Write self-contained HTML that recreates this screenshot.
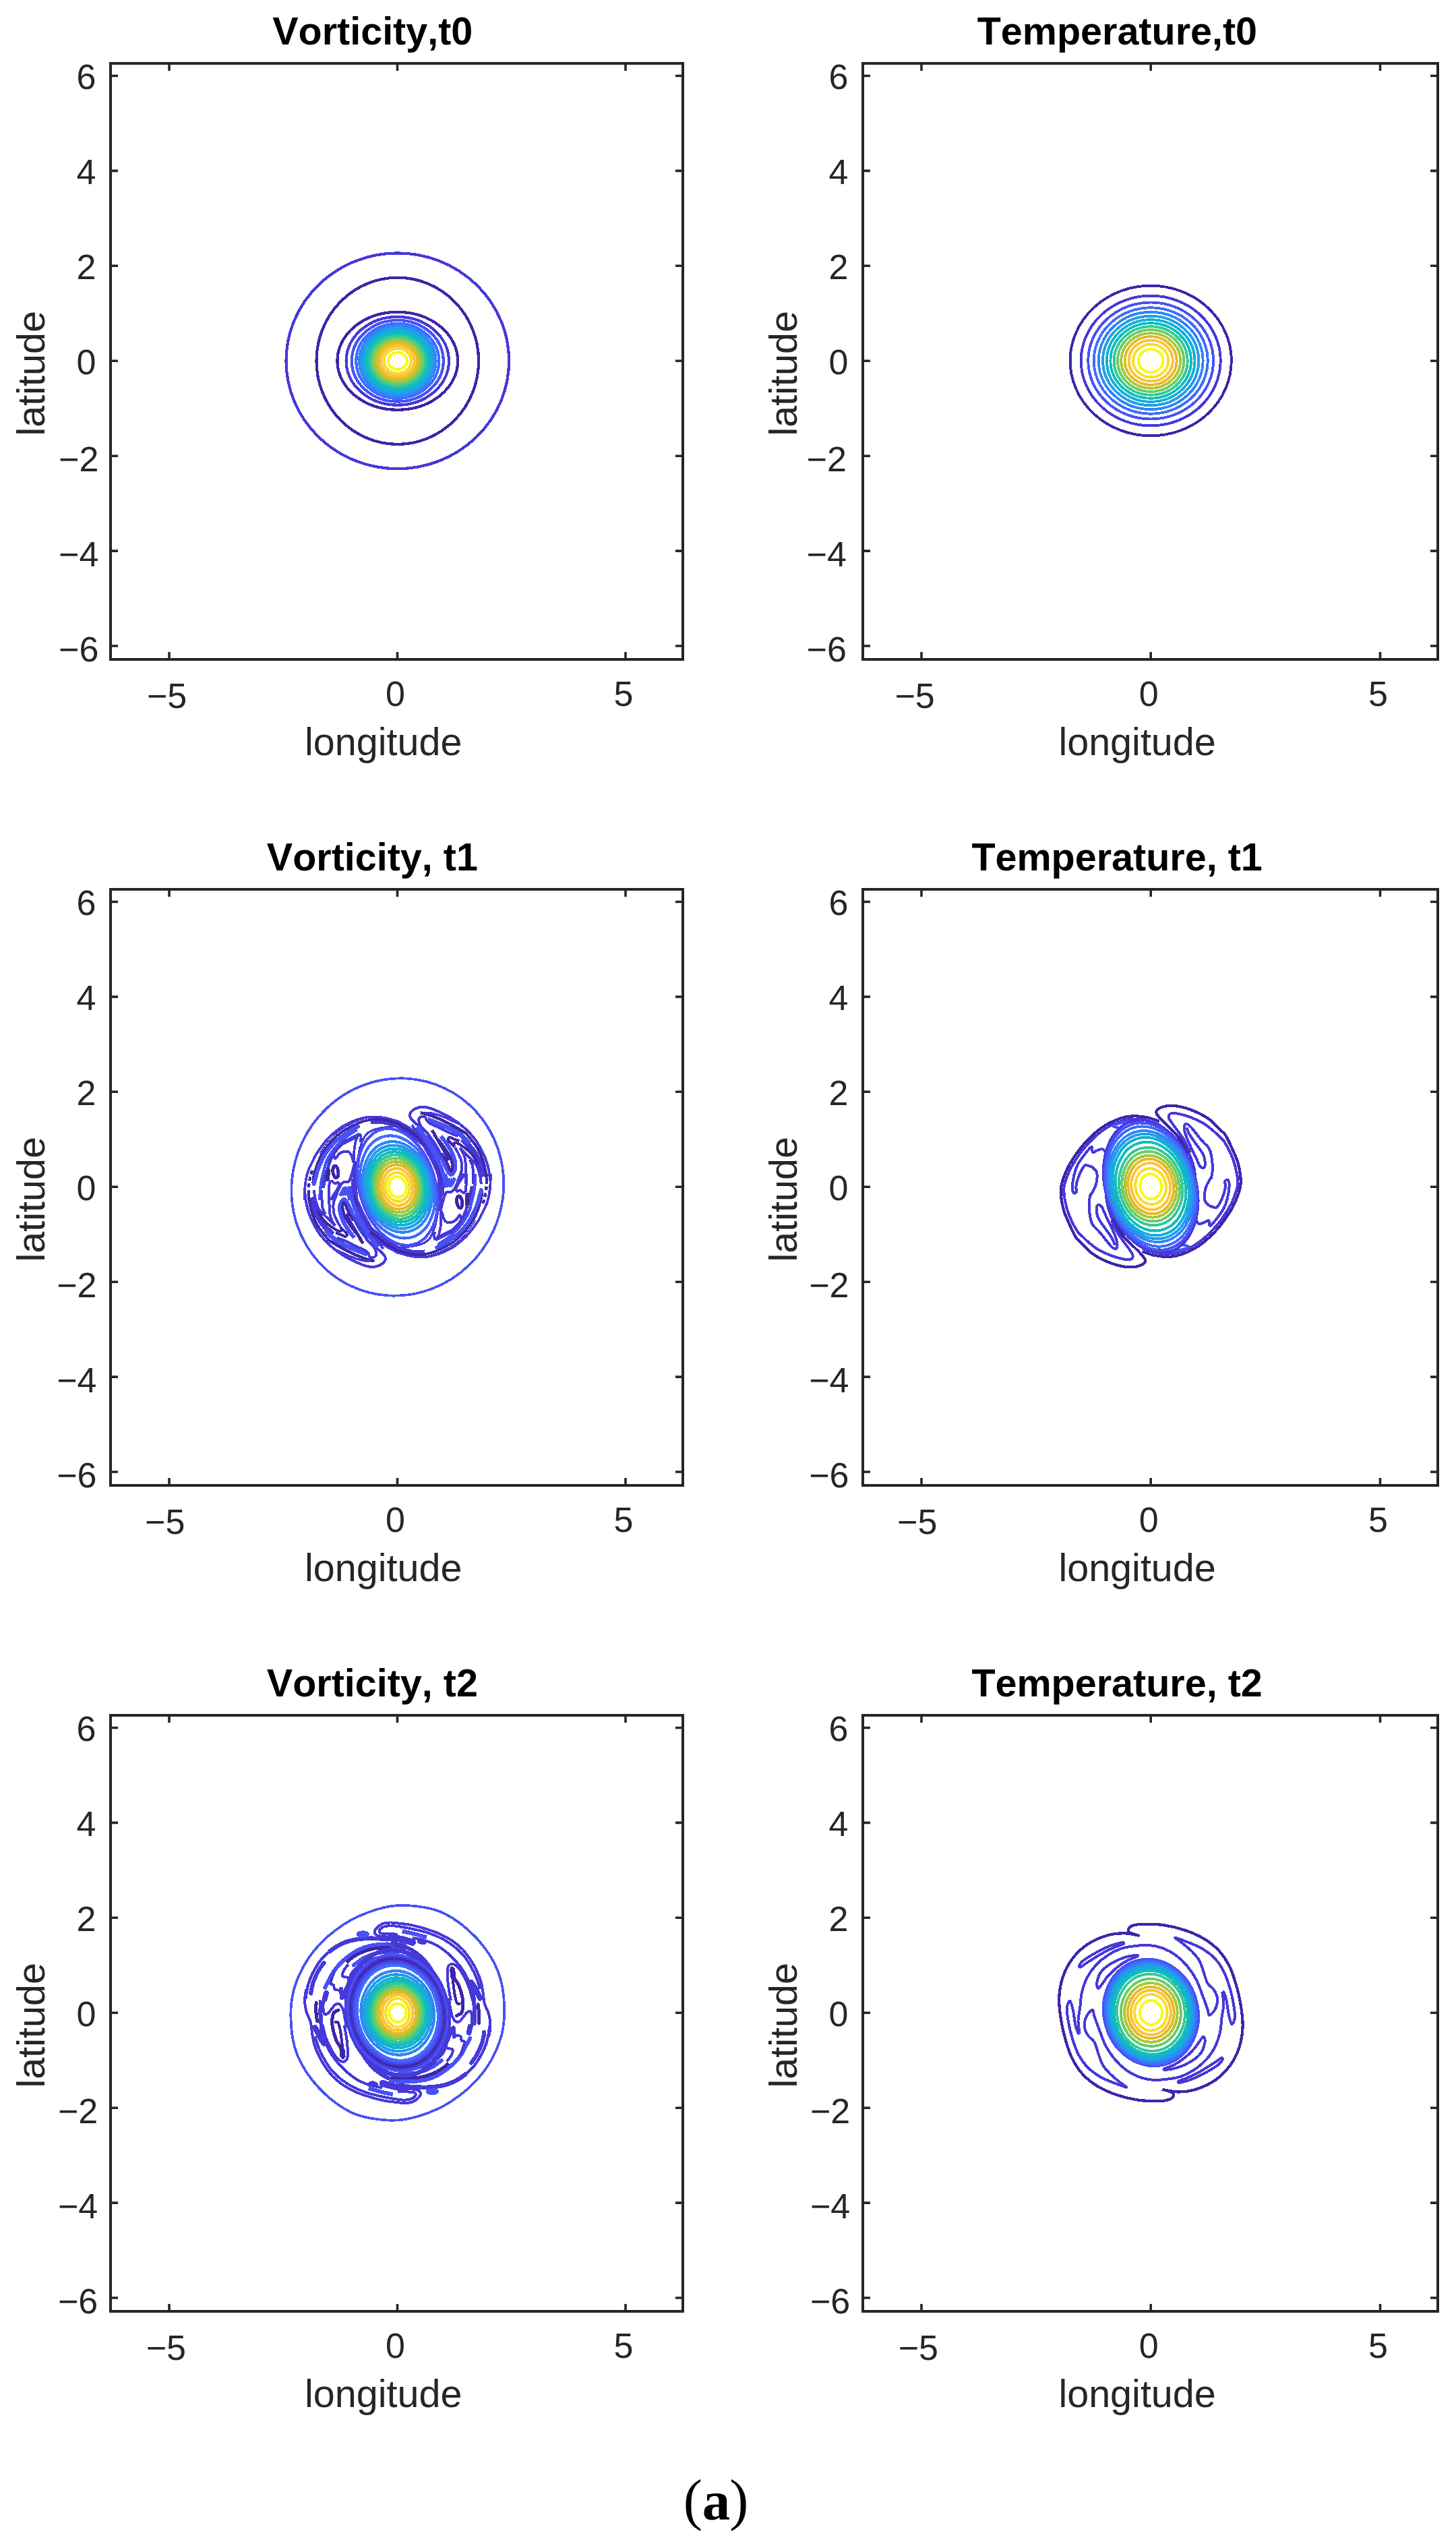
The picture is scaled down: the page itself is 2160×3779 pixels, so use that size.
<!DOCTYPE html>
<html lang="en"><head><meta charset="utf-8"><title>Vorticity and temperature contours</title>
<style>html,body{margin:0;padding:0;background:#fff}svg{display:block}text{font-family:"Liberation Sans",Arial,Helvetica,sans-serif;font-kerning:none}</style></head><body>
<svg width="2160" height="3779" viewBox="0 0 2160 3779">
<rect width="2160" height="3779" fill="#fff"/>
<g shape-rendering="crispEdges">
<g fill="none">
<ellipse cx="589.8" cy="535.3" rx="120.3" ry="123.6" stroke="#3e26a8" stroke-width="4.2"/>
<ellipse cx="589.8" cy="535.3" rx="165.3" ry="159.9" stroke="#4639da" stroke-width="4.2"/>
<ellipse cx="589.8" cy="535.3" rx="89.4" ry="72.5" stroke="#3e26a8" stroke-width="4.2"/>
<ellipse cx="589.8" cy="535.3" rx="76.2" ry="65.4" stroke="#4639da" stroke-width="4.2"/>
<ellipse cx="589.8" cy="535.3" rx="68.0" ry="60.3" stroke="#4852f4" stroke-width="4.2"/>
<ellipse cx="589.8" cy="535.3" rx="61.5" ry="55.5" stroke="#406cfe" stroke-width="4.2"/>
<ellipse cx="589.8" cy="535.3" rx="56.7" ry="51.9" stroke="#2e87f7" stroke-width="4.2"/>
<ellipse cx="589.8" cy="535.3" rx="52.5" ry="48.2" stroke="#249ee6" stroke-width="4.2"/>
<ellipse cx="589.8" cy="535.3" rx="48.5" ry="44.3" stroke="#12b1d6" stroke-width="4.2"/>
<ellipse cx="589.8" cy="535.3" rx="44.8" ry="40.5" stroke="#12beb9" stroke-width="4.2"/>
<ellipse cx="589.8" cy="535.3" rx="41.0" ry="37.0" stroke="#37c897" stroke-width="4.2"/>
<ellipse cx="589.8" cy="535.3" rx="37.3" ry="33.5" stroke="#6bcd69" stroke-width="4.2"/>
<ellipse cx="589.8" cy="535.3" rx="33.5" ry="30.0" stroke="#abc739" stroke-width="4.2"/>
<ellipse cx="589.8" cy="535.3" rx="29.4" ry="26.4" stroke="#e1bc2b" stroke-width="4.2"/>
<ellipse cx="589.8" cy="535.3" rx="25.0" ry="22.6" stroke="#fec338" stroke-width="4.2"/>
<ellipse cx="589.8" cy="535.3" rx="20.3" ry="18.5" stroke="#f6df29" stroke-width="4.2"/>
<ellipse cx="589.8" cy="535.3" rx="14.0" ry="12.4" stroke="#f9fb15" stroke-width="4.2"/>
</g>
<g fill="none">
<ellipse cx="1707.2" cy="535.0" rx="119.6" ry="111.3" stroke="#3e26a8" stroke-width="3.9"/>
<ellipse cx="1707.2" cy="535.0" rx="103.5" ry="96.4" stroke="#4639da" stroke-width="3.9"/>
<ellipse cx="1707.2" cy="535.0" rx="92.9" ry="86.5" stroke="#4852f4" stroke-width="3.9"/>
<ellipse cx="1707.2" cy="535.0" rx="84.5" ry="78.7" stroke="#406cfe" stroke-width="3.9"/>
<ellipse cx="1707.2" cy="535.0" rx="77.4" ry="72.1" stroke="#2e87f7" stroke-width="3.9"/>
<ellipse cx="1707.2" cy="535.0" rx="71.1" ry="66.2" stroke="#249ee6" stroke-width="3.9"/>
<ellipse cx="1707.2" cy="535.0" rx="65.3" ry="60.8" stroke="#12b1d6" stroke-width="3.9"/>
<ellipse cx="1707.2" cy="535.0" rx="59.8" ry="55.7" stroke="#12beb9" stroke-width="3.9"/>
<ellipse cx="1707.2" cy="535.0" rx="54.5" ry="50.7" stroke="#37c897" stroke-width="3.9"/>
<ellipse cx="1707.2" cy="535.0" rx="49.2" ry="45.8" stroke="#6bcd69" stroke-width="3.9"/>
<ellipse cx="1707.2" cy="535.0" rx="44.0" ry="40.9" stroke="#abc739" stroke-width="3.9"/>
<ellipse cx="1707.2" cy="535.0" rx="38.5" ry="35.9" stroke="#e1bc2b" stroke-width="3.9"/>
<ellipse cx="1707.2" cy="535.0" rx="32.7" ry="30.5" stroke="#fec338" stroke-width="3.9"/>
<ellipse cx="1707.2" cy="535.0" rx="26.2" ry="24.4" stroke="#f6df29" stroke-width="3.9"/>
<ellipse cx="1707.2" cy="535.0" rx="18.2" ry="17.0" stroke="#f9fb15" stroke-width="3.9"/>
</g>
<g fill="none" stroke-linejoin="round">
<ellipse cx="589.8" cy="1760.5" rx="156.3" ry="162.3" stroke="#4852f4" stroke-width="3.7" transform="rotate(25.5 589.8 1760.5)"/>
<g><path d="M451.9 1780.0C451.9 1777.2 451.9 1768.5 452.2 1763.4C452.5 1758.3 453.0 1754.2 453.9 1749.6C454.8 1745.0 455.9 1740.0 457.4 1735.9C458.8 1731.8 460.7 1729.0 462.6 1725.0C464.5 1721.0 466.5 1716.2 469.0 1712.0C471.5 1707.8 474.4 1704.0 477.4 1700.0C480.4 1696.0 483.7 1691.5 487.0 1688.0C490.3 1684.5 493.2 1682.1 497.0 1679.0C500.8 1675.9 504.7 1672.6 510.0 1669.6C515.3 1666.6 522.7 1663.1 528.7 1661.0C534.7 1658.9 540.4 1657.5 545.9 1656.8C551.4 1656.1 559.3 1656.9 562.0 1656.9" stroke="#4639da" stroke-width="3.8"/>
<path d="M452.6 1770.0C452.8 1771.8 452.9 1776.4 453.7 1781.0C454.6 1785.6 455.8 1792.0 457.6 1797.5C459.4 1803.0 461.8 1808.3 464.7 1814.0C467.7 1819.6 471.0 1826.0 475.2 1831.5C479.3 1837.0 484.0 1842.0 489.5 1846.9C494.9 1851.9 501.7 1857.1 508.1 1861.2C514.5 1865.3 521.7 1868.8 527.9 1871.6C534.1 1874.5 540.4 1877.1 545.5 1878.2C550.6 1879.3 555.0 1879.0 558.7 1878.2C562.3 1877.5 565.3 1875.7 567.5 1873.8C569.7 1872.0 571.7 1869.5 571.9 1867.3C572.1 1865.0 570.6 1862.7 568.6 1860.1C566.6 1857.5 562.7 1854.8 559.8 1851.9C556.8 1848.9 552.5 1844.1 551.0 1842.5" stroke="#4639da" stroke-width="4"/>
<path d="M549.4 1661.6L551.7 1661.4L555.0 1661.2L558.7 1661.0L562.2 1660.9L565.4 1661.0L568.6 1661.5L571.6 1662.1L574.5 1662.8L578.0 1663.7L581.2 1664.8L584.6 1665.7L587.8 1666.5L590.7 1667.8L593.3 1669.4L596.2 1671.2L598.8 1672.5L601.4 1673.8L604.4 1675.5L606.5 1677.0L608.8 1678.8L611.3 1680.7L613.9 1682.7L616.5 1684.7L619.3 1686.9L622.3 1689.2L625.2 1691.5L627.6 1693.4L629.4 1694.8L629.4 1694.8" stroke="#4639da" stroke-width="11.5"/>
<path d="M474.4 1710.7L475.5 1709.0L477.1 1706.6L479.0 1703.7L481.1 1700.8L483.0 1698.1L485.0 1695.5L486.9 1693.1L489.0 1690.6L491.4 1688.0L493.8 1685.7L496.0 1683.6L498.4 1681.5L500.9 1679.3L503.7 1677.2L506.7 1675.0L509.5 1673.2L512.2 1671.7L515.0 1670.1L518.0 1668.5L521.0 1667.0L524.0 1665.6L526.9 1664.3L529.6 1663.1L532.8 1661.8L536.7 1660.5L540.4 1659.5L543.8 1658.6L546.5 1658.0L548.5 1657.5L548.5 1657.5" stroke="#4639da" stroke-width="1.8"/>
<path d="M464.2 1755.0C464.3 1753.5 464.4 1749.2 465.0 1746.0C465.6 1742.8 466.5 1739.4 467.5 1735.9C468.5 1732.4 469.5 1728.9 471.1 1725.0C472.7 1721.1 474.6 1716.7 477.0 1712.5C479.4 1708.3 482.6 1703.9 485.6 1700.0C488.6 1696.1 490.9 1692.9 495.0 1689.0C499.1 1685.1 503.8 1680.6 510.0 1676.7C516.2 1672.8 525.6 1668.2 532.1 1665.5C538.6 1662.8 544.0 1661.5 549.3 1660.6C554.6 1659.7 559.5 1659.7 563.7 1659.9C567.9 1660.1 571.5 1661.1 574.7 1661.8C577.9 1662.5 580.5 1663.6 583.0 1664.3C585.5 1665.0 587.5 1665.2 589.8 1666.2C592.1 1667.2 594.2 1668.9 596.7 1670.3C599.2 1671.7 601.7 1672.6 604.9 1674.7C608.1 1676.8 611.7 1679.8 615.9 1683.0C620.1 1686.2 627.6 1692.2 630.0 1694.0" stroke="#3e26a8" stroke-width="3.6"/>
<path d="M600.0 1857.0C598.3 1856.5 592.7 1855.5 589.8 1854.3C586.9 1853.0 585.9 1851.7 582.4 1849.5C578.9 1847.3 573.3 1844.5 568.7 1841.2C564.1 1837.9 559.5 1834.1 554.9 1829.5C550.3 1824.9 544.9 1818.6 541.2 1813.7C537.5 1808.8 534.7 1804.5 532.5 1800.0C530.3 1795.5 529.1 1791.5 528.0 1786.5C526.9 1781.5 526.2 1774.4 525.8 1770.0C525.4 1765.6 525.6 1763.7 525.6 1760.0C525.6 1756.3 525.9 1750.0 526.0 1748.0" stroke="#4639da" stroke-width="9.6"/>
<path d="M526.0 1748.0C526.7 1744.2 529.6 1728.8 530.3 1725.0" stroke="#4639da" stroke-width="7"/>
<path d="M530.3 1725.0C531.1 1720.8 534.2 1704.2 535.0 1700.0" stroke="#4639da" stroke-width="4.5"/>
<path d="M535.0 1700.0C535.6 1698.3 537.2 1692.8 538.5 1690.0C539.8 1687.2 541.1 1685.1 543.0 1683.0C544.9 1680.9 546.8 1679.1 550.0 1677.5C553.2 1675.9 557.4 1674.5 562.0 1673.5C566.6 1672.5 572.9 1671.8 577.4 1671.3C581.9 1670.8 587.1 1670.6 589.0 1670.5" stroke="#4639da" stroke-width="3.2"/>
<path d="M600.0 1857.0C598.3 1856.5 592.7 1855.5 589.8 1854.3C586.9 1853.0 585.9 1851.7 582.4 1849.5C578.9 1847.3 573.3 1844.5 568.7 1841.2C564.1 1837.9 559.5 1834.1 554.9 1829.5C550.3 1824.9 544.9 1818.6 541.2 1813.7C537.5 1808.8 534.7 1804.5 532.5 1800.0C530.3 1795.5 529.1 1791.5 528.0 1786.5C526.9 1781.5 526.2 1772.8 525.8 1770.0" stroke="#3e26a8" stroke-width="4.0"/>
<path d="M465.8 1756.0C466.2 1754.3 467.6 1749.5 468.5 1746.0C469.4 1742.5 470.3 1738.5 471.5 1735.0C472.7 1731.5 473.9 1728.8 475.7 1725.0C477.4 1721.2 479.4 1716.7 482.0 1712.5C484.6 1708.3 487.9 1703.8 491.1 1700.0C494.3 1696.2 497.9 1692.9 501.0 1690.0C504.1 1687.1 506.5 1685.2 510.0 1682.8C513.5 1680.3 518.4 1677.3 522.0 1675.3C525.6 1673.3 529.8 1671.5 531.4 1670.8" stroke="#4852f4" stroke-width="5.8" stroke-linecap="round"/>
<path d="M474.5 1780.0C474.6 1777.2 474.7 1768.5 475.2 1763.4C475.7 1758.3 476.4 1754.2 477.3 1749.6C478.2 1745.0 479.7 1740.0 480.7 1735.9C481.7 1731.8 481.8 1729.0 483.4 1725.0C484.9 1721.0 487.4 1716.2 490.0 1712.0C492.6 1707.8 495.8 1703.9 499.1 1700.0C502.4 1696.1 506.5 1691.9 510.0 1688.8C513.5 1685.7 516.7 1683.8 520.0 1681.5C523.3 1679.2 528.3 1676.1 530.0 1675.0" stroke="#4852f4" stroke-width="4.5"/>
<path d="M479.5 1762.0C479.9 1759.8 481.0 1753.3 482.0 1749.0C483.0 1744.7 484.4 1740.0 485.5 1736.0C486.6 1732.0 487.3 1728.8 488.7 1725.0C490.1 1721.2 491.9 1716.6 494.0 1713.0C496.1 1709.4 498.6 1706.3 501.0 1703.5C503.4 1700.7 507.2 1697.2 508.4 1696.0" stroke="#4639da" stroke-width="4.5"/>
<path d="M507.5 1695.8C509.6 1694.8 515.6 1691.8 520.0 1689.6C524.4 1687.3 531.5 1683.5 533.8 1682.3" stroke="#4639da" stroke-width="6"/>
<path d="M533.8 1681.5C533.0 1682.7 530.2 1685.7 529.0 1688.5C527.8 1691.3 527.2 1694.8 526.6 1698.1C526.0 1701.4 525.5 1705.0 525.3 1708.4C525.1 1711.8 525.2 1715.6 525.4 1718.7C525.5 1721.8 526.1 1725.6 526.2 1727.0" stroke="#4639da" stroke-width="3.8"/>
<path d="M533.8 1681.5C534.1 1682.2 535.4 1683.9 535.5 1686.0C535.6 1688.1 534.7 1692.7 534.5 1694.0" stroke="#4639da" stroke-width="3.8"/>
<path d="M487.6 1722.9C488.3 1721.9 490.4 1718.9 491.7 1717.4C493.0 1715.9 494.2 1713.8 495.1 1713.9C496.1 1714.1 496.2 1718.9 497.5 1718.4C498.9 1717.9 501.3 1712.9 503.4 1711.2C505.5 1709.4 508.0 1708.4 510.2 1707.9C512.5 1707.4 515.3 1707.4 517.1 1708.3C518.9 1709.2 520.1 1710.9 521.2 1713.2C522.4 1715.6 523.2 1720.0 524.0 1722.2C524.7 1724.3 525.8 1724.0 525.7 1726.3C525.6 1728.6 524.0 1733.0 523.3 1735.9C522.6 1738.8 521.9 1741.3 521.2 1743.5C520.5 1745.6 519.9 1747.5 519.2 1749.0C518.5 1750.4 518.6 1751.7 517.1 1752.4C515.6 1753.1 512.3 1752.3 510.2 1753.1C508.2 1753.9 506.2 1757.1 504.8 1757.2C503.3 1757.3 502.6 1754.2 501.3 1753.9C500.0 1753.6 498.3 1755.8 496.9 1755.5C495.4 1755.1 493.7 1752.0 492.4 1751.7C491.1 1751.4 489.5 1753.1 489.0 1753.4" stroke="#4639da" stroke-width="4"/>
<path d="M486.9 1735.2C486.8 1736.4 486.7 1739.8 486.6 1742.1C486.4 1744.4 486.3 1747.8 486.2 1749.0" stroke="#3e26a8" stroke-width="6" stroke-linecap="round"/>
<ellipse cx="497.9" cy="1738.0" rx="4.0" ry="8.9" stroke="#3e26a8" stroke-width="5" transform="rotate(-8 497.9 1738.0)"/>
<path d="M463.2 1735.9C462.7 1737.4 461.3 1741.4 460.5 1744.8C459.7 1748.3 458.9 1752.8 458.4 1756.5C457.9 1760.2 457.8 1762.9 457.7 1766.8C457.6 1770.7 457.9 1777.8 457.9 1780.0" stroke="#3e26a8" stroke-width="4.2" stroke-dasharray="6 4"/>
<path d="M489.0 1753.4C488.8 1754.5 488.5 1756.6 488.3 1759.9C488.0 1763.3 487.6 1770.3 487.6 1773.7C487.5 1777.0 487.9 1778.9 487.9 1780.0" stroke="#4639da" stroke-width="4"/>
<path d="M504.8 1757.2C504.0 1758.8 501.7 1763.0 499.9 1766.8C498.2 1770.6 495.4 1777.8 494.5 1780.0" stroke="#4639da" stroke-width="6"/>
<path d="M504.8 1773.7C505.6 1772.0 508.2 1765.2 509.6 1763.4C510.9 1761.5 511.8 1761.5 513.0 1762.7C514.1 1763.8 515.4 1767.4 516.4 1770.2C517.5 1773.1 518.7 1778.4 519.2 1780.0" stroke="#4852f4" stroke-width="5"/>
<path d="M463.7 1775.3C464.1 1777.6 464.8 1784.8 465.8 1789.0C466.8 1793.3 468.1 1796.7 469.9 1800.7C471.7 1804.7 474.4 1809.5 476.8 1813.1C479.2 1816.6 481.5 1819.0 484.3 1822.0C487.2 1825.0 492.4 1829.4 494.0 1830.9" stroke="#4639da" stroke-width="8"/>
<path d="M457.6 1767.7C457.8 1770.2 458.0 1776.9 458.9 1782.2C459.8 1787.4 461.1 1793.6 463.0 1799.3C465.0 1805.1 467.7 1811.4 470.6 1816.5C473.5 1821.7 477.2 1826.3 480.2 1830.2C483.2 1834.2 487.1 1838.4 488.5 1840.0" stroke="#3e26a8" stroke-width="4"/>
<path d="M470.6 1792.5C471.4 1794.2 473.5 1799.6 475.4 1802.8C477.4 1806.0 479.6 1809.0 482.3 1811.7C484.9 1814.5 488.3 1817.1 491.2 1819.3C494.1 1821.4 497.3 1823.3 499.5 1824.4C501.6 1825.5 503.0 1825.8 504.3 1825.8C505.5 1825.7 506.9 1825.0 507.0 1824.1C507.1 1823.1 505.3 1820.6 504.9 1819.9" stroke="#3e26a8" stroke-width="4"/>
<path d="M504.9 1819.9C505.6 1820.6 507.6 1822.6 509.1 1824.1C510.6 1825.6 513.0 1827.4 513.9 1828.9C514.8 1830.3 515.0 1831.8 514.6 1832.7C514.1 1833.5 512.7 1834.0 511.1 1833.7C509.5 1833.4 507.1 1831.8 504.9 1830.9C502.8 1830.1 499.2 1828.9 498.1 1828.5" stroke="#3e26a8" stroke-width="4"/>
<path d="M465.8 1765.0C466.1 1767.3 466.7 1774.2 467.9 1778.7C469.0 1783.3 470.7 1788.8 472.7 1792.5C474.6 1796.1 476.9 1798.0 479.5 1800.7C482.2 1803.5 485.8 1806.4 488.5 1809.0C491.1 1811.5 493.8 1814.3 495.3 1815.8C496.8 1817.4 497.0 1817.8 497.4 1818.2" stroke="#4639da" stroke-width="4"/>
<path d="M477.5 1765.0C477.5 1767.3 477.2 1774.2 477.5 1778.7C477.7 1783.3 477.9 1788.8 478.8 1792.5C479.8 1796.1 482.3 1799.3 483.0 1800.7" stroke="#4639da" stroke-width="4"/>
<path d="M488.5 1765.0C488.5 1768.4 488.2 1779.3 488.5 1785.6C488.7 1791.9 488.9 1798.2 489.8 1802.8C490.8 1807.4 492.7 1810.6 494.0 1813.1C495.2 1815.6 496.8 1817.1 497.4 1817.9" stroke="#4639da" stroke-width="4"/>
<path d="M500.1 1765.0C499.2 1766.4 496.2 1770.8 494.6 1773.2C493.1 1775.7 491.5 1778.7 490.9 1779.8" stroke="#4639da" stroke-width="4.5"/>
<path d="M500.8 1769.1C500.3 1770.4 498.4 1773.9 497.4 1776.7C496.4 1779.4 495.0 1781.8 494.6 1785.6C494.3 1789.4 494.5 1795.3 495.3 1799.3C496.1 1803.3 497.8 1806.3 499.5 1809.6C501.1 1813.0 504.0 1817.7 504.9 1819.3" stroke="#4639da" stroke-width="4"/>
<path d="M525.5 1835.7C524.4 1834.3 521.0 1830.0 518.7 1826.8C516.4 1823.6 513.8 1819.9 511.8 1816.5C509.9 1813.1 508.3 1809.6 507.0 1806.2C505.7 1802.8 504.6 1799.3 504.3 1795.9C503.9 1792.5 503.9 1788.5 504.9 1785.6C506.0 1782.7 508.7 1779.0 510.4 1778.7C512.2 1778.5 513.6 1781.7 515.2 1784.2C516.8 1786.7 518.3 1790.2 520.1 1793.8C521.8 1797.5 523.5 1801.9 525.5 1806.2C527.6 1810.6 530.1 1815.9 532.4 1819.9C534.7 1824.0 537.0 1827.3 539.3 1830.2C541.6 1833.2 545.0 1836.5 546.2 1837.8" stroke="#4852f4" stroke-width="6"/>
<path d="M535.9 1837.8C535.1 1836.9 533.0 1834.6 531.0 1832.3C529.1 1830.0 526.5 1827.0 524.2 1824.1C521.9 1821.1 519.4 1817.7 517.3 1814.5C515.2 1811.2 513.2 1807.9 511.8 1804.8C510.4 1801.7 509.6 1798.5 509.1 1795.9C508.5 1793.3 508.3 1791.0 508.4 1789.0C508.5 1787.0 509.1 1784.5 509.8 1783.9C510.4 1783.3 511.4 1784.2 512.2 1785.6C513.0 1787.0 513.5 1790.0 514.6 1792.5C515.6 1795.0 517.1 1797.7 518.7 1800.7C520.3 1803.7 523.3 1808.7 524.2 1810.3" stroke="#3e26a8" stroke-width="4"/>
<path d="M507.7 1772.6C508.3 1771.6 510.0 1767.0 511.1 1767.1C512.2 1767.1 513.7 1771.9 514.2 1772.9" stroke="#4852f4" stroke-width="5"/>
<path d="M483.0 1824.7C484.2 1826.0 487.7 1830.0 490.5 1832.6C493.4 1835.3 495.0 1837.5 500.0 1840.5C505.0 1843.6 513.0 1847.5 520.5 1850.8C528.1 1854.1 541.2 1858.8 545.3 1860.4" stroke="#4852f4" stroke-width="7"/>
<path d="M488.5 1840.0C490.4 1841.2 494.7 1843.9 500.0 1846.9C505.3 1849.9 513.7 1854.6 520.5 1857.9C527.4 1861.2 535.4 1864.6 541.2 1866.7C547.1 1868.8 553.2 1869.8 555.6 1870.4" stroke="#3e26a8" stroke-width="4.5"/>
<path d="M500.0 1854.3C503.4 1855.9 514.3 1861.4 520.6 1863.9C526.9 1866.4 533.0 1868.3 537.8 1869.4C542.6 1870.4 547.5 1870.1 549.5 1870.2" stroke="#4639da" stroke-width="3.5"/>
<path d="M500.0 1835.7C502.3 1836.6 509.2 1839.1 513.7 1841.2C518.3 1843.3 522.9 1845.9 527.5 1848.1C532.1 1850.3 538.0 1852.4 541.2 1854.3C544.4 1856.1 545.6 1857.5 546.7 1859.1C547.8 1860.6 547.0 1862.5 548.1 1863.5C549.1 1864.6 551.2 1865.5 552.9 1865.2C554.5 1865.0 557.3 1863.5 558.0 1861.8C558.8 1860.1 558.1 1857.2 557.3 1854.9C556.6 1852.7 555.8 1850.8 553.6 1848.1C551.3 1845.3 546.5 1841.9 544.0 1838.5C541.4 1835.0 540.6 1831.0 538.5 1827.5C536.3 1823.9 533.3 1820.8 530.9 1817.2C528.5 1813.5 525.2 1807.4 524.0 1805.5" stroke="#4639da" stroke-width="4"/>
<path d="M513.7 1800.0C514.9 1802.3 518.1 1809.2 520.6 1813.7C523.1 1818.3 526.3 1823.1 528.8 1827.5C531.4 1831.8 534.1 1837.0 535.7 1839.8C537.4 1842.6 538.3 1843.6 538.8 1844.3" stroke="#3e26a8" stroke-width="4.5"/>
<path d="M560.4 1849.8C559.5 1848.5 557.0 1844.8 554.9 1841.9C552.9 1839.0 550.4 1835.5 548.1 1832.3C545.8 1829.1 543.3 1825.8 541.2 1822.7C539.1 1819.6 537.4 1816.6 535.7 1813.7C534.0 1810.9 532.3 1807.8 530.9 1805.5C529.5 1803.2 528.0 1800.9 527.5 1800.0" stroke="#4852f4" stroke-width="7"/>
<path d="M568.7 1852.2C567.5 1850.6 564.7 1846.5 561.8 1842.6C559.0 1838.7 554.9 1833.7 551.5 1828.8C548.1 1824.0 544.1 1818.5 541.2 1813.7C538.3 1808.9 535.5 1802.3 534.3 1800.0" stroke="#4639da" stroke-width="4"/>
<path d="M517.3 1759.5C517.5 1760.4 517.9 1761.8 518.7 1765.0C519.5 1768.2 520.7 1774.2 522.1 1778.7C523.5 1783.3 525.0 1787.7 526.9 1792.5C528.9 1797.3 531.3 1802.5 533.8 1807.6C536.3 1812.6 539.3 1818.3 542.0 1822.7C544.7 1827.0 548.7 1831.8 550.0 1833.7" stroke="#4852f4" stroke-width="6.5"/>
<path d="M524.5 1760.9C524.8 1762.0 525.1 1764.2 526.2 1767.7C527.3 1771.3 529.1 1777.1 531.0 1782.2C533.0 1787.2 535.4 1792.8 537.9 1798.0C540.4 1803.1 544.1 1809.4 546.2 1813.1C548.2 1816.7 549.4 1818.8 550.0 1819.9" stroke="#4639da" stroke-width="4"/></g>
<g transform="rotate(180 589.8 1760.4)"><path d="M451.9 1780.0C451.9 1777.2 451.9 1768.5 452.2 1763.4C452.5 1758.3 453.0 1754.2 453.9 1749.6C454.8 1745.0 455.9 1740.0 457.4 1735.9C458.8 1731.8 460.7 1729.0 462.6 1725.0C464.5 1721.0 466.5 1716.2 469.0 1712.0C471.5 1707.8 474.4 1704.0 477.4 1700.0C480.4 1696.0 483.7 1691.5 487.0 1688.0C490.3 1684.5 493.2 1682.1 497.0 1679.0C500.8 1675.9 504.7 1672.6 510.0 1669.6C515.3 1666.6 522.7 1663.1 528.7 1661.0C534.7 1658.9 540.4 1657.5 545.9 1656.8C551.4 1656.1 559.3 1656.9 562.0 1656.9" stroke="#4639da" stroke-width="3.8"/>
<path d="M452.6 1770.0C452.8 1771.8 452.9 1776.4 453.7 1781.0C454.6 1785.6 455.8 1792.0 457.6 1797.5C459.4 1803.0 461.8 1808.3 464.7 1814.0C467.7 1819.6 471.0 1826.0 475.2 1831.5C479.3 1837.0 484.0 1842.0 489.5 1846.9C494.9 1851.9 501.7 1857.1 508.1 1861.2C514.5 1865.3 521.7 1868.8 527.9 1871.6C534.1 1874.5 540.4 1877.1 545.5 1878.2C550.6 1879.3 555.0 1879.0 558.7 1878.2C562.3 1877.5 565.3 1875.7 567.5 1873.8C569.7 1872.0 571.7 1869.5 571.9 1867.3C572.1 1865.0 570.6 1862.7 568.6 1860.1C566.6 1857.5 562.7 1854.8 559.8 1851.9C556.8 1848.9 552.5 1844.1 551.0 1842.5" stroke="#4639da" stroke-width="4"/>
<path d="M549.4 1661.6L551.7 1661.4L555.0 1661.2L558.7 1661.0L562.2 1660.9L565.4 1661.0L568.6 1661.5L571.6 1662.1L574.5 1662.8L578.0 1663.7L581.2 1664.8L584.6 1665.7L587.8 1666.5L590.7 1667.8L593.3 1669.4L596.2 1671.2L598.8 1672.5L601.4 1673.8L604.4 1675.5L606.5 1677.0L608.8 1678.8L611.3 1680.7L613.9 1682.7L616.5 1684.7L619.3 1686.9L622.3 1689.2L625.2 1691.5L627.6 1693.4L629.4 1694.8L629.4 1694.8" stroke="#4639da" stroke-width="11.5"/>
<path d="M474.4 1710.7L475.5 1709.0L477.1 1706.6L479.0 1703.7L481.1 1700.8L483.0 1698.1L485.0 1695.5L486.9 1693.1L489.0 1690.6L491.4 1688.0L493.8 1685.7L496.0 1683.6L498.4 1681.5L500.9 1679.3L503.7 1677.2L506.7 1675.0L509.5 1673.2L512.2 1671.7L515.0 1670.1L518.0 1668.5L521.0 1667.0L524.0 1665.6L526.9 1664.3L529.6 1663.1L532.8 1661.8L536.7 1660.5L540.4 1659.5L543.8 1658.6L546.5 1658.0L548.5 1657.5L548.5 1657.5" stroke="#4639da" stroke-width="1.8"/>
<path d="M464.2 1755.0C464.3 1753.5 464.4 1749.2 465.0 1746.0C465.6 1742.8 466.5 1739.4 467.5 1735.9C468.5 1732.4 469.5 1728.9 471.1 1725.0C472.7 1721.1 474.6 1716.7 477.0 1712.5C479.4 1708.3 482.6 1703.9 485.6 1700.0C488.6 1696.1 490.9 1692.9 495.0 1689.0C499.1 1685.1 503.8 1680.6 510.0 1676.7C516.2 1672.8 525.6 1668.2 532.1 1665.5C538.6 1662.8 544.0 1661.5 549.3 1660.6C554.6 1659.7 559.5 1659.7 563.7 1659.9C567.9 1660.1 571.5 1661.1 574.7 1661.8C577.9 1662.5 580.5 1663.6 583.0 1664.3C585.5 1665.0 587.5 1665.2 589.8 1666.2C592.1 1667.2 594.2 1668.9 596.7 1670.3C599.2 1671.7 601.7 1672.6 604.9 1674.7C608.1 1676.8 611.7 1679.8 615.9 1683.0C620.1 1686.2 627.6 1692.2 630.0 1694.0" stroke="#3e26a8" stroke-width="3.6"/>
<path d="M600.0 1857.0C598.3 1856.5 592.7 1855.5 589.8 1854.3C586.9 1853.0 585.9 1851.7 582.4 1849.5C578.9 1847.3 573.3 1844.5 568.7 1841.2C564.1 1837.9 559.5 1834.1 554.9 1829.5C550.3 1824.9 544.9 1818.6 541.2 1813.7C537.5 1808.8 534.7 1804.5 532.5 1800.0C530.3 1795.5 529.1 1791.5 528.0 1786.5C526.9 1781.5 526.2 1774.4 525.8 1770.0C525.4 1765.6 525.6 1763.7 525.6 1760.0C525.6 1756.3 525.9 1750.0 526.0 1748.0" stroke="#4639da" stroke-width="9.6"/>
<path d="M526.0 1748.0C526.7 1744.2 529.6 1728.8 530.3 1725.0" stroke="#4639da" stroke-width="7"/>
<path d="M530.3 1725.0C531.1 1720.8 534.2 1704.2 535.0 1700.0" stroke="#4639da" stroke-width="4.5"/>
<path d="M535.0 1700.0C535.6 1698.3 537.2 1692.8 538.5 1690.0C539.8 1687.2 541.1 1685.1 543.0 1683.0C544.9 1680.9 546.8 1679.1 550.0 1677.5C553.2 1675.9 557.4 1674.5 562.0 1673.5C566.6 1672.5 572.9 1671.8 577.4 1671.3C581.9 1670.8 587.1 1670.6 589.0 1670.5" stroke="#4639da" stroke-width="3.2"/>
<path d="M600.0 1857.0C598.3 1856.5 592.7 1855.5 589.8 1854.3C586.9 1853.0 585.9 1851.7 582.4 1849.5C578.9 1847.3 573.3 1844.5 568.7 1841.2C564.1 1837.9 559.5 1834.1 554.9 1829.5C550.3 1824.9 544.9 1818.6 541.2 1813.7C537.5 1808.8 534.7 1804.5 532.5 1800.0C530.3 1795.5 529.1 1791.5 528.0 1786.5C526.9 1781.5 526.2 1772.8 525.8 1770.0" stroke="#3e26a8" stroke-width="4.0"/>
<path d="M465.8 1756.0C466.2 1754.3 467.6 1749.5 468.5 1746.0C469.4 1742.5 470.3 1738.5 471.5 1735.0C472.7 1731.5 473.9 1728.8 475.7 1725.0C477.4 1721.2 479.4 1716.7 482.0 1712.5C484.6 1708.3 487.9 1703.8 491.1 1700.0C494.3 1696.2 497.9 1692.9 501.0 1690.0C504.1 1687.1 506.5 1685.2 510.0 1682.8C513.5 1680.3 518.4 1677.3 522.0 1675.3C525.6 1673.3 529.8 1671.5 531.4 1670.8" stroke="#4852f4" stroke-width="5.8" stroke-linecap="round"/>
<path d="M474.5 1780.0C474.6 1777.2 474.7 1768.5 475.2 1763.4C475.7 1758.3 476.4 1754.2 477.3 1749.6C478.2 1745.0 479.7 1740.0 480.7 1735.9C481.7 1731.8 481.8 1729.0 483.4 1725.0C484.9 1721.0 487.4 1716.2 490.0 1712.0C492.6 1707.8 495.8 1703.9 499.1 1700.0C502.4 1696.1 506.5 1691.9 510.0 1688.8C513.5 1685.7 516.7 1683.8 520.0 1681.5C523.3 1679.2 528.3 1676.1 530.0 1675.0" stroke="#4852f4" stroke-width="4.5"/>
<path d="M479.5 1762.0C479.9 1759.8 481.0 1753.3 482.0 1749.0C483.0 1744.7 484.4 1740.0 485.5 1736.0C486.6 1732.0 487.3 1728.8 488.7 1725.0C490.1 1721.2 491.9 1716.6 494.0 1713.0C496.1 1709.4 498.6 1706.3 501.0 1703.5C503.4 1700.7 507.2 1697.2 508.4 1696.0" stroke="#4639da" stroke-width="4.5"/>
<path d="M507.5 1695.8C509.6 1694.8 515.6 1691.8 520.0 1689.6C524.4 1687.3 531.5 1683.5 533.8 1682.3" stroke="#4639da" stroke-width="6"/>
<path d="M533.8 1681.5C533.0 1682.7 530.2 1685.7 529.0 1688.5C527.8 1691.3 527.2 1694.8 526.6 1698.1C526.0 1701.4 525.5 1705.0 525.3 1708.4C525.1 1711.8 525.2 1715.6 525.4 1718.7C525.5 1721.8 526.1 1725.6 526.2 1727.0" stroke="#4639da" stroke-width="3.8"/>
<path d="M533.8 1681.5C534.1 1682.2 535.4 1683.9 535.5 1686.0C535.6 1688.1 534.7 1692.7 534.5 1694.0" stroke="#4639da" stroke-width="3.8"/>
<path d="M487.6 1722.9C488.3 1721.9 490.4 1718.9 491.7 1717.4C493.0 1715.9 494.2 1713.8 495.1 1713.9C496.1 1714.1 496.2 1718.9 497.5 1718.4C498.9 1717.9 501.3 1712.9 503.4 1711.2C505.5 1709.4 508.0 1708.4 510.2 1707.9C512.5 1707.4 515.3 1707.4 517.1 1708.3C518.9 1709.2 520.1 1710.9 521.2 1713.2C522.4 1715.6 523.2 1720.0 524.0 1722.2C524.7 1724.3 525.8 1724.0 525.7 1726.3C525.6 1728.6 524.0 1733.0 523.3 1735.9C522.6 1738.8 521.9 1741.3 521.2 1743.5C520.5 1745.6 519.9 1747.5 519.2 1749.0C518.5 1750.4 518.6 1751.7 517.1 1752.4C515.6 1753.1 512.3 1752.3 510.2 1753.1C508.2 1753.9 506.2 1757.1 504.8 1757.2C503.3 1757.3 502.6 1754.2 501.3 1753.9C500.0 1753.6 498.3 1755.8 496.9 1755.5C495.4 1755.1 493.7 1752.0 492.4 1751.7C491.1 1751.4 489.5 1753.1 489.0 1753.4" stroke="#4639da" stroke-width="4"/>
<path d="M486.9 1735.2C486.8 1736.4 486.7 1739.8 486.6 1742.1C486.4 1744.4 486.3 1747.8 486.2 1749.0" stroke="#3e26a8" stroke-width="6" stroke-linecap="round"/>
<ellipse cx="497.9" cy="1738.0" rx="4.0" ry="8.9" stroke="#3e26a8" stroke-width="5" transform="rotate(-8 497.9 1738.0)"/>
<path d="M463.2 1735.9C462.7 1737.4 461.3 1741.4 460.5 1744.8C459.7 1748.3 458.9 1752.8 458.4 1756.5C457.9 1760.2 457.8 1762.9 457.7 1766.8C457.6 1770.7 457.9 1777.8 457.9 1780.0" stroke="#3e26a8" stroke-width="4.2" stroke-dasharray="6 4"/>
<path d="M489.0 1753.4C488.8 1754.5 488.5 1756.6 488.3 1759.9C488.0 1763.3 487.6 1770.3 487.6 1773.7C487.5 1777.0 487.9 1778.9 487.9 1780.0" stroke="#4639da" stroke-width="4"/>
<path d="M504.8 1757.2C504.0 1758.8 501.7 1763.0 499.9 1766.8C498.2 1770.6 495.4 1777.8 494.5 1780.0" stroke="#4639da" stroke-width="6"/>
<path d="M504.8 1773.7C505.6 1772.0 508.2 1765.2 509.6 1763.4C510.9 1761.5 511.8 1761.5 513.0 1762.7C514.1 1763.8 515.4 1767.4 516.4 1770.2C517.5 1773.1 518.7 1778.4 519.2 1780.0" stroke="#4852f4" stroke-width="5"/>
<path d="M463.7 1775.3C464.1 1777.6 464.8 1784.8 465.8 1789.0C466.8 1793.3 468.1 1796.7 469.9 1800.7C471.7 1804.7 474.4 1809.5 476.8 1813.1C479.2 1816.6 481.5 1819.0 484.3 1822.0C487.2 1825.0 492.4 1829.4 494.0 1830.9" stroke="#4639da" stroke-width="8"/>
<path d="M457.6 1767.7C457.8 1770.2 458.0 1776.9 458.9 1782.2C459.8 1787.4 461.1 1793.6 463.0 1799.3C465.0 1805.1 467.7 1811.4 470.6 1816.5C473.5 1821.7 477.2 1826.3 480.2 1830.2C483.2 1834.2 487.1 1838.4 488.5 1840.0" stroke="#3e26a8" stroke-width="4"/>
<path d="M470.6 1792.5C471.4 1794.2 473.5 1799.6 475.4 1802.8C477.4 1806.0 479.6 1809.0 482.3 1811.7C484.9 1814.5 488.3 1817.1 491.2 1819.3C494.1 1821.4 497.3 1823.3 499.5 1824.4C501.6 1825.5 503.0 1825.8 504.3 1825.8C505.5 1825.7 506.9 1825.0 507.0 1824.1C507.1 1823.1 505.3 1820.6 504.9 1819.9" stroke="#3e26a8" stroke-width="4"/>
<path d="M504.9 1819.9C505.6 1820.6 507.6 1822.6 509.1 1824.1C510.6 1825.6 513.0 1827.4 513.9 1828.9C514.8 1830.3 515.0 1831.8 514.6 1832.7C514.1 1833.5 512.7 1834.0 511.1 1833.7C509.5 1833.4 507.1 1831.8 504.9 1830.9C502.8 1830.1 499.2 1828.9 498.1 1828.5" stroke="#3e26a8" stroke-width="4"/>
<path d="M465.8 1765.0C466.1 1767.3 466.7 1774.2 467.9 1778.7C469.0 1783.3 470.7 1788.8 472.7 1792.5C474.6 1796.1 476.9 1798.0 479.5 1800.7C482.2 1803.5 485.8 1806.4 488.5 1809.0C491.1 1811.5 493.8 1814.3 495.3 1815.8C496.8 1817.4 497.0 1817.8 497.4 1818.2" stroke="#4639da" stroke-width="4"/>
<path d="M477.5 1765.0C477.5 1767.3 477.2 1774.2 477.5 1778.7C477.7 1783.3 477.9 1788.8 478.8 1792.5C479.8 1796.1 482.3 1799.3 483.0 1800.7" stroke="#4639da" stroke-width="4"/>
<path d="M488.5 1765.0C488.5 1768.4 488.2 1779.3 488.5 1785.6C488.7 1791.9 488.9 1798.2 489.8 1802.8C490.8 1807.4 492.7 1810.6 494.0 1813.1C495.2 1815.6 496.8 1817.1 497.4 1817.9" stroke="#4639da" stroke-width="4"/>
<path d="M500.1 1765.0C499.2 1766.4 496.2 1770.8 494.6 1773.2C493.1 1775.7 491.5 1778.7 490.9 1779.8" stroke="#4639da" stroke-width="4.5"/>
<path d="M500.8 1769.1C500.3 1770.4 498.4 1773.9 497.4 1776.7C496.4 1779.4 495.0 1781.8 494.6 1785.6C494.3 1789.4 494.5 1795.3 495.3 1799.3C496.1 1803.3 497.8 1806.3 499.5 1809.6C501.1 1813.0 504.0 1817.7 504.9 1819.3" stroke="#4639da" stroke-width="4"/>
<path d="M525.5 1835.7C524.4 1834.3 521.0 1830.0 518.7 1826.8C516.4 1823.6 513.8 1819.9 511.8 1816.5C509.9 1813.1 508.3 1809.6 507.0 1806.2C505.7 1802.8 504.6 1799.3 504.3 1795.9C503.9 1792.5 503.9 1788.5 504.9 1785.6C506.0 1782.7 508.7 1779.0 510.4 1778.7C512.2 1778.5 513.6 1781.7 515.2 1784.2C516.8 1786.7 518.3 1790.2 520.1 1793.8C521.8 1797.5 523.5 1801.9 525.5 1806.2C527.6 1810.6 530.1 1815.9 532.4 1819.9C534.7 1824.0 537.0 1827.3 539.3 1830.2C541.6 1833.2 545.0 1836.5 546.2 1837.8" stroke="#4852f4" stroke-width="6"/>
<path d="M535.9 1837.8C535.1 1836.9 533.0 1834.6 531.0 1832.3C529.1 1830.0 526.5 1827.0 524.2 1824.1C521.9 1821.1 519.4 1817.7 517.3 1814.5C515.2 1811.2 513.2 1807.9 511.8 1804.8C510.4 1801.7 509.6 1798.5 509.1 1795.9C508.5 1793.3 508.3 1791.0 508.4 1789.0C508.5 1787.0 509.1 1784.5 509.8 1783.9C510.4 1783.3 511.4 1784.2 512.2 1785.6C513.0 1787.0 513.5 1790.0 514.6 1792.5C515.6 1795.0 517.1 1797.7 518.7 1800.7C520.3 1803.7 523.3 1808.7 524.2 1810.3" stroke="#3e26a8" stroke-width="4"/>
<path d="M507.7 1772.6C508.3 1771.6 510.0 1767.0 511.1 1767.1C512.2 1767.1 513.7 1771.9 514.2 1772.9" stroke="#4852f4" stroke-width="5"/>
<path d="M483.0 1824.7C484.2 1826.0 487.7 1830.0 490.5 1832.6C493.4 1835.3 495.0 1837.5 500.0 1840.5C505.0 1843.6 513.0 1847.5 520.5 1850.8C528.1 1854.1 541.2 1858.8 545.3 1860.4" stroke="#4852f4" stroke-width="7"/>
<path d="M488.5 1840.0C490.4 1841.2 494.7 1843.9 500.0 1846.9C505.3 1849.9 513.7 1854.6 520.5 1857.9C527.4 1861.2 535.4 1864.6 541.2 1866.7C547.1 1868.8 553.2 1869.8 555.6 1870.4" stroke="#3e26a8" stroke-width="4.5"/>
<path d="M500.0 1854.3C503.4 1855.9 514.3 1861.4 520.6 1863.9C526.9 1866.4 533.0 1868.3 537.8 1869.4C542.6 1870.4 547.5 1870.1 549.5 1870.2" stroke="#4639da" stroke-width="3.5"/>
<path d="M500.0 1835.7C502.3 1836.6 509.2 1839.1 513.7 1841.2C518.3 1843.3 522.9 1845.9 527.5 1848.1C532.1 1850.3 538.0 1852.4 541.2 1854.3C544.4 1856.1 545.6 1857.5 546.7 1859.1C547.8 1860.6 547.0 1862.5 548.1 1863.5C549.1 1864.6 551.2 1865.5 552.9 1865.2C554.5 1865.0 557.3 1863.5 558.0 1861.8C558.8 1860.1 558.1 1857.2 557.3 1854.9C556.6 1852.7 555.8 1850.8 553.6 1848.1C551.3 1845.3 546.5 1841.9 544.0 1838.5C541.4 1835.0 540.6 1831.0 538.5 1827.5C536.3 1823.9 533.3 1820.8 530.9 1817.2C528.5 1813.5 525.2 1807.4 524.0 1805.5" stroke="#4639da" stroke-width="4"/>
<path d="M513.7 1800.0C514.9 1802.3 518.1 1809.2 520.6 1813.7C523.1 1818.3 526.3 1823.1 528.8 1827.5C531.4 1831.8 534.1 1837.0 535.7 1839.8C537.4 1842.6 538.3 1843.6 538.8 1844.3" stroke="#3e26a8" stroke-width="4.5"/>
<path d="M560.4 1849.8C559.5 1848.5 557.0 1844.8 554.9 1841.9C552.9 1839.0 550.4 1835.5 548.1 1832.3C545.8 1829.1 543.3 1825.8 541.2 1822.7C539.1 1819.6 537.4 1816.6 535.7 1813.7C534.0 1810.9 532.3 1807.8 530.9 1805.5C529.5 1803.2 528.0 1800.9 527.5 1800.0" stroke="#4852f4" stroke-width="7"/>
<path d="M568.7 1852.2C567.5 1850.6 564.7 1846.5 561.8 1842.6C559.0 1838.7 554.9 1833.7 551.5 1828.8C548.1 1824.0 544.1 1818.5 541.2 1813.7C538.3 1808.9 535.5 1802.3 534.3 1800.0" stroke="#4639da" stroke-width="4"/>
<path d="M517.3 1759.5C517.5 1760.4 517.9 1761.8 518.7 1765.0C519.5 1768.2 520.7 1774.2 522.1 1778.7C523.5 1783.3 525.0 1787.7 526.9 1792.5C528.9 1797.3 531.3 1802.5 533.8 1807.6C536.3 1812.6 539.3 1818.3 542.0 1822.7C544.7 1827.0 548.7 1831.8 550.0 1833.7" stroke="#4852f4" stroke-width="6.5"/>
<path d="M524.5 1760.9C524.8 1762.0 525.1 1764.2 526.2 1767.7C527.3 1771.3 529.1 1777.1 531.0 1782.2C533.0 1787.2 535.4 1792.8 537.9 1798.0C540.4 1803.1 544.1 1809.4 546.2 1813.1C548.2 1816.7 549.4 1818.8 550.0 1819.9" stroke="#4639da" stroke-width="4"/></g>
<ellipse cx="589.8" cy="1760.4" rx="56.5" ry="88.5" stroke="#4852f4" stroke-width="4.2" transform="rotate(-16 589.8 1760.4)"/>
<ellipse cx="589.8" cy="1760.4" rx="53.5" ry="77.5" stroke="#406cfe" stroke-width="4.2" transform="rotate(-15.933333333333334 589.8 1760.4)"/>
<ellipse cx="589.8" cy="1760.4" rx="50.4" ry="68.2" stroke="#2e87f7" stroke-width="4.2" transform="rotate(-14.853333333333333 589.8 1760.4)"/>
<ellipse cx="589.8" cy="1760.4" rx="46.9" ry="62.5" stroke="#249ee6" stroke-width="4.2" transform="rotate(-14.146666666666667 589.8 1760.4)"/>
<ellipse cx="589.8" cy="1760.4" rx="43.6" ry="57.4" stroke="#12b1d6" stroke-width="4.2" transform="rotate(-13.506666666666668 589.8 1760.4)"/>
<ellipse cx="589.8" cy="1760.4" rx="40.3" ry="52.6" stroke="#12beb9" stroke-width="4.2" transform="rotate(-12.893333333333334 589.8 1760.4)"/>
<ellipse cx="589.8" cy="1760.4" rx="36.9" ry="47.9" stroke="#37c897" stroke-width="4.2" transform="rotate(-12.293333333333333 589.8 1760.4)"/>
<ellipse cx="589.8" cy="1760.4" rx="33.7" ry="43.0" stroke="#6bcd69" stroke-width="4.2" transform="rotate(-11.666666666666666 589.8 1760.4)"/>
<ellipse cx="589.8" cy="1760.4" rx="30.4" ry="38.1" stroke="#abc739" stroke-width="4.2" transform="rotate(-11.026666666666667 589.8 1760.4)"/>
<ellipse cx="589.8" cy="1760.4" rx="26.6" ry="33.2" stroke="#e1bc2b" stroke-width="4.2" transform="rotate(-10.386666666666667 589.8 1760.4)"/>
<ellipse cx="589.8" cy="1760.4" rx="22.2" ry="27.5" stroke="#fec338" stroke-width="4.2" transform="rotate(-10 589.8 1760.4)"/>
<ellipse cx="589.8" cy="1760.4" rx="17.8" ry="21.4" stroke="#f6df29" stroke-width="4.2" transform="rotate(-10 589.8 1760.4)"/>
<ellipse cx="589.8" cy="1760.4" rx="13.0" ry="15.5" stroke="#f9fb15" stroke-width="4.2" transform="rotate(-10 589.8 1760.4)"/>
</g>
<g fill="none" stroke-linejoin="round">
<g><path d="M1720.0 1663.1C1717.1 1662.2 1708.5 1658.9 1702.9 1657.6C1697.3 1656.3 1691.9 1655.6 1686.4 1655.4C1680.9 1655.2 1675.4 1655.4 1669.9 1656.5C1664.4 1657.6 1658.9 1659.6 1653.4 1662.0C1647.9 1664.4 1642.4 1667.1 1636.9 1670.8C1631.4 1674.4 1625.9 1678.8 1620.4 1684.0C1614.9 1689.1 1608.9 1695.5 1604.0 1701.5C1599.0 1707.6 1594.6 1714.0 1590.8 1720.2C1586.9 1726.4 1583.6 1732.3 1580.9 1738.9C1578.1 1745.5 1575.4 1753.7 1574.3 1760.0C1573.2 1766.3 1573.6 1770.6 1574.3 1776.5C1574.9 1782.3 1576.4 1789.3 1578.1 1795.2C1579.9 1801.0 1581.7 1805.0 1584.7 1811.6C1587.7 1818.3 1592.7 1829.8 1596.1 1835.2C1599.5 1840.7 1601.2 1840.4 1605.0 1844.2C1608.8 1848.0 1613.6 1853.9 1618.7 1857.9C1623.9 1861.9 1630.2 1865.4 1635.9 1868.2C1641.6 1871.1 1647.9 1873.4 1653.1 1875.1C1658.2 1876.8 1662.2 1877.8 1666.8 1878.5C1671.4 1879.2 1676.5 1879.4 1680.5 1879.2C1684.6 1879.0 1688.0 1878.2 1690.9 1877.1C1693.7 1876.1 1696.3 1874.4 1697.7 1873.0C1699.1 1871.6 1699.3 1870.4 1699.1 1868.9C1698.9 1867.4 1697.7 1865.9 1696.3 1864.1C1695.0 1862.3 1692.9 1860.1 1690.9 1857.9C1688.8 1855.7 1686.3 1853.3 1684.0 1851.0C1681.7 1848.8 1679.3 1846.4 1677.1 1844.2C1674.9 1842.0 1672.7 1839.6 1670.9 1838.0C1669.2 1836.4 1667.5 1835.1 1666.8 1834.6" stroke="#3e26a8" stroke-width="4.2"/>
<path d="M1718.6 1667.2L1716.7 1666.5L1714.1 1665.6L1711.1 1664.5L1707.8 1663.5L1704.7 1662.5L1701.9 1661.8L1699.0 1661.2L1696.1 1660.6L1693.3 1660.2L1690.5 1659.9L1687.6 1659.7L1684.8 1659.6L1681.9 1659.6L1679.1 1659.7L1676.3 1659.9L1673.5 1660.2L1670.7 1660.7L1668.0 1661.3L1665.2 1662.1L1662.3 1663.1L1659.5 1664.1L1656.6 1665.3L1653.8 1666.5L1651.1 1667.7L1648.5 1669.0L1645.9 1670.4L1643.2 1671.9L1640.6 1673.5L1638.2 1675.1L1635.9 1676.7L1633.6 1678.4L1631.4 1680.2L1629.1 1682.0L1626.8 1684.0L1624.5 1686.0L1622.4 1688.0L1620.3 1690.0L1618.2 1692.1L1616.2 1694.3L1614.1 1696.5L1612.1 1698.7L1610.1 1700.9L1608.2 1703.2L1606.3 1705.4L1604.5 1707.8L1602.7 1710.2L1600.9 1712.7L1599.2 1715.1L1597.6 1717.6L1596.0 1720.0L1594.4 1722.5L1592.8 1725.1L1591.3 1727.6L1589.9 1730.2L1588.5 1732.7L1587.2 1735.3L1586.0 1737.9L1584.8 1740.6L1583.7 1743.4L1582.6 1746.3L1581.6 1749.4L1580.6 1752.4L1579.7 1755.4L1579.0 1758.2L1578.5 1760.7L1578.2 1764.1L1578.1 1767.6L1578.3 1771.0L1578.5 1774.0L1578.6 1776.4L1578.6 1776.4" stroke="#4639da" stroke-width="4.0"/>
<path d="M1666.8 1834.9C1665.9 1833.6 1663.2 1829.8 1661.3 1827.0C1659.5 1824.2 1657.3 1820.5 1655.8 1818.1C1654.3 1815.7 1653.4 1814.1 1652.4 1812.6C1651.4 1811.0 1650.4 1809.4 1650.0 1808.8" stroke="#3e26a8" stroke-width="7"/>
<path d="M1664.1 1830.4C1663.3 1829.4 1660.7 1826.4 1659.3 1824.3C1657.8 1822.1 1655.8 1818.5 1655.1 1817.4" stroke="#3e26a8" stroke-width="9"/>
<path d="M1578.7 1768.8C1578.8 1770.1 1578.4 1772.1 1579.2 1776.5C1580.1 1780.9 1581.8 1789.3 1583.6 1795.2C1585.5 1801.0 1587.7 1806.3 1590.2 1811.6C1592.8 1817.0 1596.4 1823.4 1598.8 1827.0C1601.3 1830.6 1602.3 1830.6 1605.0 1833.2C1607.7 1835.8 1611.3 1839.5 1615.3 1842.8C1619.3 1846.1 1623.9 1850.0 1629.0 1853.1C1634.2 1856.2 1640.8 1859.2 1646.2 1861.3C1651.6 1863.5 1657.0 1865.0 1661.3 1866.2C1665.7 1867.3 1669.6 1868.0 1672.3 1868.2C1675.1 1868.4 1676.4 1868.2 1677.8 1867.5C1679.2 1866.8 1680.2 1865.4 1680.5 1864.1C1680.9 1862.8 1680.5 1861.6 1679.9 1860.0C1679.2 1858.4 1677.9 1856.7 1676.4 1854.5C1674.9 1852.3 1672.8 1849.4 1670.9 1846.9C1669.1 1844.4 1667.3 1841.9 1665.4 1839.4C1663.6 1836.8 1661.5 1834.2 1659.9 1831.8C1658.3 1829.4 1657.1 1827.2 1655.8 1824.9C1654.6 1822.7 1653.4 1820.3 1652.4 1818.1C1651.4 1815.9 1650.1 1812.9 1649.6 1811.9" stroke="#4639da" stroke-width="4"/>
<path d="M1618.0 1770.0C1617.7 1771.7 1616.4 1776.9 1616.0 1780.3C1615.6 1783.7 1615.5 1787.2 1615.6 1790.6C1615.8 1794.0 1616.2 1797.5 1616.7 1800.9C1617.2 1804.3 1617.8 1808.3 1618.7 1811.2C1619.7 1814.1 1620.7 1816.0 1622.2 1818.1C1623.7 1820.1 1625.7 1821.5 1627.7 1823.6C1629.6 1825.6 1631.9 1828.2 1633.8 1830.4C1635.8 1832.7 1637.6 1835.1 1639.3 1837.3C1641.1 1839.5 1642.5 1841.5 1644.1 1843.5C1645.8 1845.4 1647.5 1847.6 1649.0 1849.0C1650.4 1850.4 1651.8 1851.7 1653.1 1852.1C1654.3 1852.5 1655.8 1852.1 1656.5 1851.4C1657.3 1850.6 1657.5 1849.3 1657.5 1847.6C1657.6 1846.0 1657.4 1843.8 1656.9 1841.4C1656.3 1839.0 1655.5 1836.2 1654.5 1833.2C1653.4 1830.2 1651.7 1826.7 1650.3 1823.6C1649.0 1820.5 1647.6 1817.5 1646.2 1814.6C1644.8 1811.8 1643.5 1809.3 1642.1 1806.4C1640.7 1803.5 1639.2 1800.2 1638.0 1797.5C1636.7 1794.7 1635.7 1791.6 1634.5 1789.9C1633.4 1788.2 1632.2 1787.5 1631.1 1787.2C1630.0 1786.8 1628.8 1787.1 1628.0 1787.9C1627.3 1788.7 1626.8 1790.1 1626.6 1792.0C1626.5 1793.8 1626.7 1796.6 1627.1 1798.8C1627.5 1801.1 1628.1 1803.5 1629.0 1805.7C1629.9 1807.9 1631.1 1809.7 1632.5 1811.9C1633.8 1814.1 1635.6 1816.4 1637.3 1818.8C1639.0 1821.2 1641.1 1823.9 1642.8 1826.3C1644.5 1828.7 1646.1 1830.8 1647.6 1833.2C1649.1 1835.6 1650.7 1838.5 1651.7 1840.7C1652.7 1843.0 1653.4 1845.9 1653.8 1846.9" stroke="#4639da" stroke-width="4"/>
<path d="M1640.8 1769.7C1640.9 1768.1 1641.1 1763.3 1641.3 1760.0C1641.5 1756.7 1641.7 1754.3 1641.9 1749.9C1642.1 1745.5 1642.4 1738.5 1642.4 1733.4C1642.4 1728.3 1642.2 1723.0 1641.9 1719.1C1641.5 1715.3 1641.0 1712.7 1640.2 1710.3C1639.4 1707.9 1638.4 1705.8 1636.9 1704.8C1635.5 1703.9 1633.3 1704.5 1631.4 1704.8C1629.6 1705.2 1627.6 1706.3 1625.9 1707.0C1624.3 1707.8 1622.5 1709.2 1621.5 1709.2C1620.6 1709.2 1620.7 1708.3 1620.4 1707.0C1620.2 1705.8 1620.4 1702.3 1619.9 1701.5C1619.3 1700.8 1619.2 1700.4 1617.1 1702.6C1615.0 1704.8 1610.4 1710.5 1607.3 1714.7C1604.1 1718.9 1600.8 1723.0 1598.5 1727.9C1596.1 1732.9 1594.2 1739.0 1593.0 1744.4C1591.7 1749.7 1591.0 1756.3 1590.8 1760.0C1590.5 1763.7 1590.8 1764.8 1591.3 1766.4C1591.9 1768.0 1593.1 1769.7 1594.1 1769.7C1595.1 1769.7 1597.0 1768.0 1597.4 1766.4C1597.7 1764.8 1595.9 1763.3 1596.3 1760.0C1596.6 1756.7 1598.1 1750.8 1599.6 1746.6C1601.0 1742.3 1603.4 1737.5 1605.1 1734.5C1606.7 1731.5 1607.8 1729.4 1609.5 1728.5C1611.1 1727.5 1612.9 1728.5 1614.9 1729.0C1617.0 1729.6 1619.5 1730.1 1621.5 1731.8C1623.6 1733.4 1626.1 1735.9 1627.0 1738.9C1628.0 1741.9 1627.6 1746.4 1627.3 1749.9C1626.9 1753.4 1625.9 1757.1 1624.8 1760.0C1623.8 1762.9 1622.3 1765.1 1621.0 1767.5C1619.7 1769.8 1617.7 1773.0 1617.0 1774.1" stroke="#4639da" stroke-width="4"/>
<path d="M1640.8 1769.7C1640.9 1770.8 1640.9 1773.3 1641.3 1776.5C1641.8 1779.6 1642.6 1784.7 1643.5 1788.6C1644.4 1792.4 1645.7 1796.3 1646.8 1799.6C1647.9 1802.9 1649.6 1806.9 1650.1 1808.4" stroke="#4639da" stroke-width="4"/>
<path d="M1697.4 1666.4C1694.6 1665.9 1685.5 1664.0 1680.9 1663.6C1676.3 1663.3 1673.6 1663.7 1669.9 1664.2C1666.2 1664.6 1662.0 1665.4 1658.9 1666.4C1655.8 1667.3 1651.8 1669.0 1651.2 1669.9C1650.7 1670.8 1654.2 1671.4 1655.6 1671.9C1657.0 1672.4 1658.7 1672.2 1659.5 1673.0C1660.2 1673.7 1660.8 1674.8 1660.0 1676.3C1659.2 1677.7 1656.3 1679.7 1654.5 1681.8C1652.7 1683.8 1650.3 1685.8 1649.0 1688.4C1647.7 1690.9 1647.4 1693.3 1646.8 1697.1C1646.3 1701.0 1646.0 1706.7 1645.7 1711.4C1645.4 1716.2 1645.0 1723.3 1644.8 1725.7" stroke="#4852f4" stroke-width="4"/></g>
<g transform="rotate(180 1707.2 1759.6)"><path d="M1720.0 1663.1C1717.1 1662.2 1708.5 1658.9 1702.9 1657.6C1697.3 1656.3 1691.9 1655.6 1686.4 1655.4C1680.9 1655.2 1675.4 1655.4 1669.9 1656.5C1664.4 1657.6 1658.9 1659.6 1653.4 1662.0C1647.9 1664.4 1642.4 1667.1 1636.9 1670.8C1631.4 1674.4 1625.9 1678.8 1620.4 1684.0C1614.9 1689.1 1608.9 1695.5 1604.0 1701.5C1599.0 1707.6 1594.6 1714.0 1590.8 1720.2C1586.9 1726.4 1583.6 1732.3 1580.9 1738.9C1578.1 1745.5 1575.4 1753.7 1574.3 1760.0C1573.2 1766.3 1573.6 1770.6 1574.3 1776.5C1574.9 1782.3 1576.4 1789.3 1578.1 1795.2C1579.9 1801.0 1581.7 1805.0 1584.7 1811.6C1587.7 1818.3 1592.7 1829.8 1596.1 1835.2C1599.5 1840.7 1601.2 1840.4 1605.0 1844.2C1608.8 1848.0 1613.6 1853.9 1618.7 1857.9C1623.9 1861.9 1630.2 1865.4 1635.9 1868.2C1641.6 1871.1 1647.9 1873.4 1653.1 1875.1C1658.2 1876.8 1662.2 1877.8 1666.8 1878.5C1671.4 1879.2 1676.5 1879.4 1680.5 1879.2C1684.6 1879.0 1688.0 1878.2 1690.9 1877.1C1693.7 1876.1 1696.3 1874.4 1697.7 1873.0C1699.1 1871.6 1699.3 1870.4 1699.1 1868.9C1698.9 1867.4 1697.7 1865.9 1696.3 1864.1C1695.0 1862.3 1692.9 1860.1 1690.9 1857.9C1688.8 1855.7 1686.3 1853.3 1684.0 1851.0C1681.7 1848.8 1679.3 1846.4 1677.1 1844.2C1674.9 1842.0 1672.7 1839.6 1670.9 1838.0C1669.2 1836.4 1667.5 1835.1 1666.8 1834.6" stroke="#3e26a8" stroke-width="4.2"/>
<path d="M1718.6 1667.2L1716.7 1666.5L1714.1 1665.6L1711.1 1664.5L1707.8 1663.5L1704.7 1662.5L1701.9 1661.8L1699.0 1661.2L1696.1 1660.6L1693.3 1660.2L1690.5 1659.9L1687.6 1659.7L1684.8 1659.6L1681.9 1659.6L1679.1 1659.7L1676.3 1659.9L1673.5 1660.2L1670.7 1660.7L1668.0 1661.3L1665.2 1662.1L1662.3 1663.1L1659.5 1664.1L1656.6 1665.3L1653.8 1666.5L1651.1 1667.7L1648.5 1669.0L1645.9 1670.4L1643.2 1671.9L1640.6 1673.5L1638.2 1675.1L1635.9 1676.7L1633.6 1678.4L1631.4 1680.2L1629.1 1682.0L1626.8 1684.0L1624.5 1686.0L1622.4 1688.0L1620.3 1690.0L1618.2 1692.1L1616.2 1694.3L1614.1 1696.5L1612.1 1698.7L1610.1 1700.9L1608.2 1703.2L1606.3 1705.4L1604.5 1707.8L1602.7 1710.2L1600.9 1712.7L1599.2 1715.1L1597.6 1717.6L1596.0 1720.0L1594.4 1722.5L1592.8 1725.1L1591.3 1727.6L1589.9 1730.2L1588.5 1732.7L1587.2 1735.3L1586.0 1737.9L1584.8 1740.6L1583.7 1743.4L1582.6 1746.3L1581.6 1749.4L1580.6 1752.4L1579.7 1755.4L1579.0 1758.2L1578.5 1760.7L1578.2 1764.1L1578.1 1767.6L1578.3 1771.0L1578.5 1774.0L1578.6 1776.4L1578.6 1776.4" stroke="#4639da" stroke-width="4.0"/>
<path d="M1666.8 1834.9C1665.9 1833.6 1663.2 1829.8 1661.3 1827.0C1659.5 1824.2 1657.3 1820.5 1655.8 1818.1C1654.3 1815.7 1653.4 1814.1 1652.4 1812.6C1651.4 1811.0 1650.4 1809.4 1650.0 1808.8" stroke="#3e26a8" stroke-width="7"/>
<path d="M1664.1 1830.4C1663.3 1829.4 1660.7 1826.4 1659.3 1824.3C1657.8 1822.1 1655.8 1818.5 1655.1 1817.4" stroke="#3e26a8" stroke-width="9"/>
<path d="M1578.7 1768.8C1578.8 1770.1 1578.4 1772.1 1579.2 1776.5C1580.1 1780.9 1581.8 1789.3 1583.6 1795.2C1585.5 1801.0 1587.7 1806.3 1590.2 1811.6C1592.8 1817.0 1596.4 1823.4 1598.8 1827.0C1601.3 1830.6 1602.3 1830.6 1605.0 1833.2C1607.7 1835.8 1611.3 1839.5 1615.3 1842.8C1619.3 1846.1 1623.9 1850.0 1629.0 1853.1C1634.2 1856.2 1640.8 1859.2 1646.2 1861.3C1651.6 1863.5 1657.0 1865.0 1661.3 1866.2C1665.7 1867.3 1669.6 1868.0 1672.3 1868.2C1675.1 1868.4 1676.4 1868.2 1677.8 1867.5C1679.2 1866.8 1680.2 1865.4 1680.5 1864.1C1680.9 1862.8 1680.5 1861.6 1679.9 1860.0C1679.2 1858.4 1677.9 1856.7 1676.4 1854.5C1674.9 1852.3 1672.8 1849.4 1670.9 1846.9C1669.1 1844.4 1667.3 1841.9 1665.4 1839.4C1663.6 1836.8 1661.5 1834.2 1659.9 1831.8C1658.3 1829.4 1657.1 1827.2 1655.8 1824.9C1654.6 1822.7 1653.4 1820.3 1652.4 1818.1C1651.4 1815.9 1650.1 1812.9 1649.6 1811.9" stroke="#4639da" stroke-width="4"/>
<path d="M1618.0 1770.0C1617.7 1771.7 1616.4 1776.9 1616.0 1780.3C1615.6 1783.7 1615.5 1787.2 1615.6 1790.6C1615.8 1794.0 1616.2 1797.5 1616.7 1800.9C1617.2 1804.3 1617.8 1808.3 1618.7 1811.2C1619.7 1814.1 1620.7 1816.0 1622.2 1818.1C1623.7 1820.1 1625.7 1821.5 1627.7 1823.6C1629.6 1825.6 1631.9 1828.2 1633.8 1830.4C1635.8 1832.7 1637.6 1835.1 1639.3 1837.3C1641.1 1839.5 1642.5 1841.5 1644.1 1843.5C1645.8 1845.4 1647.5 1847.6 1649.0 1849.0C1650.4 1850.4 1651.8 1851.7 1653.1 1852.1C1654.3 1852.5 1655.8 1852.1 1656.5 1851.4C1657.3 1850.6 1657.5 1849.3 1657.5 1847.6C1657.6 1846.0 1657.4 1843.8 1656.9 1841.4C1656.3 1839.0 1655.5 1836.2 1654.5 1833.2C1653.4 1830.2 1651.7 1826.7 1650.3 1823.6C1649.0 1820.5 1647.6 1817.5 1646.2 1814.6C1644.8 1811.8 1643.5 1809.3 1642.1 1806.4C1640.7 1803.5 1639.2 1800.2 1638.0 1797.5C1636.7 1794.7 1635.7 1791.6 1634.5 1789.9C1633.4 1788.2 1632.2 1787.5 1631.1 1787.2C1630.0 1786.8 1628.8 1787.1 1628.0 1787.9C1627.3 1788.7 1626.8 1790.1 1626.6 1792.0C1626.5 1793.8 1626.7 1796.6 1627.1 1798.8C1627.5 1801.1 1628.1 1803.5 1629.0 1805.7C1629.9 1807.9 1631.1 1809.7 1632.5 1811.9C1633.8 1814.1 1635.6 1816.4 1637.3 1818.8C1639.0 1821.2 1641.1 1823.9 1642.8 1826.3C1644.5 1828.7 1646.1 1830.8 1647.6 1833.2C1649.1 1835.6 1650.7 1838.5 1651.7 1840.7C1652.7 1843.0 1653.4 1845.9 1653.8 1846.9" stroke="#4639da" stroke-width="4"/>
<path d="M1640.8 1769.7C1640.9 1768.1 1641.1 1763.3 1641.3 1760.0C1641.5 1756.7 1641.7 1754.3 1641.9 1749.9C1642.1 1745.5 1642.4 1738.5 1642.4 1733.4C1642.4 1728.3 1642.2 1723.0 1641.9 1719.1C1641.5 1715.3 1641.0 1712.7 1640.2 1710.3C1639.4 1707.9 1638.4 1705.8 1636.9 1704.8C1635.5 1703.9 1633.3 1704.5 1631.4 1704.8C1629.6 1705.2 1627.6 1706.3 1625.9 1707.0C1624.3 1707.8 1622.5 1709.2 1621.5 1709.2C1620.6 1709.2 1620.7 1708.3 1620.4 1707.0C1620.2 1705.8 1620.4 1702.3 1619.9 1701.5C1619.3 1700.8 1619.2 1700.4 1617.1 1702.6C1615.0 1704.8 1610.4 1710.5 1607.3 1714.7C1604.1 1718.9 1600.8 1723.0 1598.5 1727.9C1596.1 1732.9 1594.2 1739.0 1593.0 1744.4C1591.7 1749.7 1591.0 1756.3 1590.8 1760.0C1590.5 1763.7 1590.8 1764.8 1591.3 1766.4C1591.9 1768.0 1593.1 1769.7 1594.1 1769.7C1595.1 1769.7 1597.0 1768.0 1597.4 1766.4C1597.7 1764.8 1595.9 1763.3 1596.3 1760.0C1596.6 1756.7 1598.1 1750.8 1599.6 1746.6C1601.0 1742.3 1603.4 1737.5 1605.1 1734.5C1606.7 1731.5 1607.8 1729.4 1609.5 1728.5C1611.1 1727.5 1612.9 1728.5 1614.9 1729.0C1617.0 1729.6 1619.5 1730.1 1621.5 1731.8C1623.6 1733.4 1626.1 1735.9 1627.0 1738.9C1628.0 1741.9 1627.6 1746.4 1627.3 1749.9C1626.9 1753.4 1625.9 1757.1 1624.8 1760.0C1623.8 1762.9 1622.3 1765.1 1621.0 1767.5C1619.7 1769.8 1617.7 1773.0 1617.0 1774.1" stroke="#4639da" stroke-width="4"/>
<path d="M1640.8 1769.7C1640.9 1770.8 1640.9 1773.3 1641.3 1776.5C1641.8 1779.6 1642.6 1784.7 1643.5 1788.6C1644.4 1792.4 1645.7 1796.3 1646.8 1799.6C1647.9 1802.9 1649.6 1806.9 1650.1 1808.4" stroke="#4639da" stroke-width="4"/>
<path d="M1697.4 1666.4C1694.6 1665.9 1685.5 1664.0 1680.9 1663.6C1676.3 1663.3 1673.6 1663.7 1669.9 1664.2C1666.2 1664.6 1662.0 1665.4 1658.9 1666.4C1655.8 1667.3 1651.8 1669.0 1651.2 1669.9C1650.7 1670.8 1654.2 1671.4 1655.6 1671.9C1657.0 1672.4 1658.7 1672.2 1659.5 1673.0C1660.2 1673.7 1660.8 1674.8 1660.0 1676.3C1659.2 1677.7 1656.3 1679.7 1654.5 1681.8C1652.7 1683.8 1650.3 1685.8 1649.0 1688.4C1647.7 1690.9 1647.4 1693.3 1646.8 1697.1C1646.3 1701.0 1646.0 1706.7 1645.7 1711.4C1645.4 1716.2 1645.0 1723.3 1644.8 1725.7" stroke="#4852f4" stroke-width="4"/></g>
<ellipse cx="1707.2" cy="1759.6" rx="67.0" ry="100.8" stroke="#4639da" stroke-width="4.0" transform="rotate(-16 1707.2 1759.6)"/>
<ellipse cx="1707.2" cy="1759.6" rx="65.6" ry="96.3" stroke="#4852f4" stroke-width="4.0" transform="rotate(-16 1707.2 1759.6)"/>
<ellipse cx="1707.2" cy="1759.6" rx="63.5" ry="90.9" stroke="#406cfe" stroke-width="4.0" transform="rotate(-16 1707.2 1759.6)"/>
<ellipse cx="1707.2" cy="1759.6" rx="61.3" ry="83.9" stroke="#2e87f7" stroke-width="4.0" transform="rotate(-15.7 1707.2 1759.6)"/>
<ellipse cx="1707.2" cy="1759.6" rx="58.4" ry="79.0" stroke="#249ee6" stroke-width="4.0" transform="rotate(-15.136 1707.2 1759.6)"/>
<ellipse cx="1707.2" cy="1759.6" rx="55.2" ry="73.7" stroke="#12b1d6" stroke-width="4.0" transform="rotate(-14.524000000000001 1707.2 1759.6)"/>
<ellipse cx="1707.2" cy="1759.6" rx="51.2" ry="66.6" stroke="#12beb9" stroke-width="4.0" transform="rotate(-13.696 1707.2 1759.6)"/>
<ellipse cx="1707.2" cy="1759.6" rx="46.6" ry="58.2" stroke="#37c897" stroke-width="4.0" transform="rotate(-12.724 1707.2 1759.6)"/>
<ellipse cx="1707.2" cy="1759.6" rx="42.3" ry="52.2" stroke="#6bcd69" stroke-width="4.0" transform="rotate(-12.016 1707.2 1759.6)"/>
<ellipse cx="1707.2" cy="1759.6" rx="38.0" ry="46.2" stroke="#abc739" stroke-width="4.0" transform="rotate(-11.308 1707.2 1759.6)"/>
<ellipse cx="1707.2" cy="1759.6" rx="33.6" ry="41.0" stroke="#e1bc2b" stroke-width="4.0" transform="rotate(-10.696 1707.2 1759.6)"/>
<ellipse cx="1707.2" cy="1759.6" rx="28.7" ry="34.7" stroke="#fec338" stroke-width="4.0" transform="rotate(-10 1707.2 1759.6)"/>
<ellipse cx="1707.2" cy="1759.6" rx="22.7" ry="26.7" stroke="#f6df29" stroke-width="4.0" transform="rotate(-10 1707.2 1759.6)"/>
<ellipse cx="1707.2" cy="1759.6" rx="15.7" ry="18.7" stroke="#f9fb15" stroke-width="4.0" transform="rotate(-10 1707.2 1759.6)"/>
</g>
<g fill="none" stroke-linejoin="round">
<path d="M602.9 2826.0C619.2 2826.9 639.9 2829.1 657.3 2837.1C674.6 2845.2 693.1 2859.8 706.7 2874.2C720.3 2888.7 731.9 2906.4 738.8 2923.7C745.8 2941.0 747.8 2960.8 748.2 2978.1C748.7 2995.4 747.0 3011.0 741.3 3027.5C735.6 3044.0 726.1 3062.1 714.1 3077.0C702.2 3091.8 685.3 3106.2 669.6 3116.5C654.0 3126.8 635.6 3134.1 620.2 3138.8C604.7 3143.5 593.0 3145.5 576.7 3144.6C560.4 3143.7 539.7 3141.5 522.3 3133.5C505.0 3125.4 486.5 3110.8 472.9 3096.4C459.3 3081.9 447.7 3064.2 440.8 3046.9C433.8 3029.6 431.8 3009.8 431.4 2992.5C430.9 2975.2 432.6 2959.6 438.3 2943.1C444.0 2926.6 453.5 2908.5 465.5 2893.6C477.4 2878.8 494.3 2864.4 510.0 2854.1C525.6 2843.8 544.0 2836.5 559.4 2831.8C574.9 2827.1 586.6 2825.1 602.9 2826.0Z" stroke="#4852f4" stroke-width="3.7"/>
<g><path d="M600.0 2876.9C595.3 2876.7 580.2 2876.1 571.9 2875.8C563.5 2875.4 556.3 2874.7 549.9 2874.7C543.5 2874.7 538.9 2875.0 533.4 2875.8C527.9 2876.5 522.2 2877.4 516.9 2879.1C511.6 2880.7 506.5 2882.9 501.5 2885.7C496.6 2888.4 489.6 2893.9 487.3 2895.5" stroke="#4639da" stroke-width="6.5"/>
<path d="M487.3 2895.5C485.4 2897.4 479.6 2902.5 476.3 2906.5C473.0 2910.6 470.0 2915.3 467.5 2919.7C464.9 2924.1 462.7 2928.5 460.9 2932.9C459.0 2937.3 457.8 2940.8 456.5 2946.1C455.2 2951.4 453.7 2961.8 453.2 2965.0" stroke="#4639da" stroke-width="4.2"/>
<path d="M480.7 2910.9C479.4 2912.8 475.5 2917.3 473.0 2921.9C470.4 2926.5 467.2 2933.1 465.3 2938.4C463.4 2943.7 462.1 2951.2 461.4 2953.8" stroke="#4639da" stroke-width="6" stroke-linecap="round"/>
<ellipse cx="538.4" cy="2868.6" rx="8.2" ry="3.7" stroke="#4852f4" stroke-width="3" fill="#4852f4"/>
<path d="M600.0 2884.6C595.3 2884.4 580.2 2883.3 571.9 2883.5C563.5 2883.6 556.3 2884.4 549.9 2885.7C543.5 2886.9 538.5 2888.8 533.4 2891.2C528.3 2893.5 523.7 2896.6 519.1 2899.9C514.5 2903.2 510.0 2906.9 505.9 2910.9C501.9 2915.0 498.1 2919.5 494.9 2924.1C491.8 2928.7 489.4 2934.5 487.3 2938.4C485.1 2942.3 483.1 2946.2 482.3 2947.7" stroke="#4852f4" stroke-width="6" stroke-linecap="round"/>
<path d="M600.0 2889.2C593.5 2889.2 571.1 2888.3 560.9 2889.2C550.7 2890.1 545.3 2892.3 538.9 2894.7C532.5 2897.1 526.5 2900.8 522.4 2903.5C518.3 2906.1 515.5 2909.5 514.2 2910.7" stroke="#3e26a8" stroke-width="5"/>
<path d="M600.0 2893.9C593.5 2894.3 571.1 2894.7 560.9 2896.4C550.7 2898.2 544.9 2901.3 538.9 2904.3C532.9 2907.4 527.0 2913.0 524.6 2914.8" stroke="#4852f4" stroke-width="5.5" stroke-linecap="round"/>
<path d="M600.0 2902.1C595.3 2902.1 580.2 2901.4 571.9 2902.1C563.5 2902.9 556.3 2904.3 549.9 2906.5C543.5 2908.7 538.0 2912.0 533.4 2915.3C528.8 2918.6 525.1 2922.3 522.4 2926.3C519.8 2930.3 518.7 2934.7 517.5 2939.5C516.3 2944.3 515.8 2950.6 515.3 2954.9C514.7 2959.1 514.4 2963.3 514.2 2965.0" stroke="#4639da" stroke-width="5"/>
<path d="M600.0 2905.7C593.5 2906.0 571.1 2906.0 560.9 2907.9C550.7 2909.7 544.6 2913.6 538.9 2917.0C533.2 2920.3 529.9 2923.5 526.8 2928.0C523.7 2932.5 521.7 2937.7 520.2 2943.9C518.7 2950.1 518.2 2961.5 517.8 2965.0" stroke="#3e26a8" stroke-width="3.5"/>
<path d="M516.9 2913.1C515.8 2914.6 511.8 2919.0 510.3 2921.9C508.9 2924.9 507.2 2928.9 508.1 2930.7C509.0 2932.5 514.3 2932.0 515.8 2932.9C517.4 2933.8 517.6 2934.4 517.5 2936.2C517.4 2938.0 516.3 2941.2 515.3 2943.9C514.3 2946.6 512.3 2949.2 511.4 2952.7C510.6 2956.2 510.5 2962.9 510.3 2965.0" stroke="#4639da" stroke-width="4"/>
<path d="M497.1 2921.9C496.2 2924.3 492.7 2932.7 491.6 2936.2C490.5 2939.7 490.0 2941.5 490.5 2942.8C491.1 2944.1 494.0 2942.6 494.9 2943.9C495.9 2945.2 495.2 2949.2 496.3 2950.5C497.4 2951.8 499.8 2951.0 501.5 2951.6C503.2 2952.2 505.0 2952.4 506.5 2954.0C507.9 2955.7 509.7 2960.2 510.3 2961.5" stroke="#4639da" stroke-width="4"/>
<path d="M484.0 2956.0C483.6 2957.5 482.1 2963.5 481.8 2965.0" stroke="#4639da" stroke-width="8" stroke-linecap="round"/>
<path d="M454.3 2950.0C453.9 2952.7 452.1 2961.0 452.1 2966.5C452.1 2972.0 452.8 2977.5 454.3 2983.0C455.8 2988.5 459.4 2994.0 460.9 2999.5C462.3 3004.9 462.2 3010.4 463.1 3015.9C464.0 3021.4 464.7 3026.9 466.4 3032.4C468.0 3037.9 470.4 3043.6 473.0 3048.9C475.5 3054.2 478.5 3059.3 481.8 3064.3C485.1 3069.2 488.4 3074.0 492.7 3078.6C497.1 3083.2 502.3 3087.7 508.1 3091.8C514.0 3095.8 521.0 3099.6 527.9 3102.7C534.9 3105.9 542.6 3108.2 549.9 3110.4C557.2 3112.6 563.5 3114.5 571.9 3115.9C580.2 3117.4 595.3 3118.7 600.0 3119.2" stroke="#4639da" stroke-width="4"/>
<path d="M467.5 3020.3C468.4 3023.3 470.8 3032.4 473.0 3037.9C475.2 3043.4 477.7 3048.2 480.7 3053.3C483.6 3058.4 486.7 3063.9 490.5 3068.7C494.4 3073.4 498.6 3077.7 503.7 3081.9C508.9 3086.1 515.1 3090.5 521.3 3094.0C527.5 3097.4 534.5 3100.4 541.1 3102.7C547.7 3105.1 553.9 3106.6 560.9 3108.2C567.8 3109.9 576.3 3111.5 582.9 3112.6C589.4 3113.7 597.1 3114.5 600.0 3114.8" stroke="#4639da" stroke-width="4"/>
<path d="M467.5 3007.1C468.2 3008.6 470.4 3013.0 471.9 3015.9C473.3 3018.9 474.8 3022.3 476.3 3024.7C477.8 3027.2 480.1 3029.8 480.9 3030.8" stroke="#4639da" stroke-width="8" stroke-linecap="round"/>
<path d="M469.1 2970.3C469.1 2972.4 468.6 2978.4 468.8 2983.0C469.0 2987.5 470.3 2995.3 470.5 2997.8" stroke="#3e26a8" stroke-width="5" stroke-linecap="round"/>
<path d="M476.3 2966.5C476.1 2969.2 475.4 2977.5 475.4 2983.0C475.4 2988.5 475.8 2994.0 476.3 2999.5C476.7 3004.9 477.2 3011.0 477.9 3015.9C478.6 3020.9 480.2 3026.9 480.7 3029.1" stroke="#4639da" stroke-width="6"/>
<path d="M462.0 2950.0C461.9 2951.1 461.5 2955.5 461.4 2956.6" stroke="#4639da" stroke-width="6" stroke-linecap="round"/>
<path d="M482.9 2956.6C482.3 2959.2 479.9 2967.0 479.6 2972.0C479.2 2976.9 479.8 2983.9 480.9 2986.3C482.0 2988.6 484.2 2987.5 486.2 2986.3C488.1 2985.0 490.9 2980.8 492.7 2978.6C494.6 2976.4 495.5 2974.2 497.1 2973.1C498.8 2972.0 500.8 2971.1 502.6 2972.0C504.5 2972.9 506.7 2975.3 508.1 2978.6C509.6 2981.9 510.5 2987.0 511.4 2991.8C512.4 2996.5 513.4 3004.6 513.8 3007.1" stroke="#4639da" stroke-width="4"/>
<path d="M478.5 3002.7C479.2 3005.7 481.0 3014.8 482.9 3020.3C484.7 3025.8 487.1 3031.0 489.5 3035.7C491.8 3040.5 494.6 3045.4 497.1 3048.9C499.7 3052.4 502.3 3055.3 504.8 3056.6C507.4 3057.9 510.7 3057.9 512.5 3056.6C514.4 3055.3 515.5 3053.8 515.8 3048.9C516.2 3044.0 515.5 3034.4 514.7 3026.9C513.9 3019.4 511.5 3007.7 510.9 3003.8" stroke="#4639da" stroke-width="4"/>
<path d="M484.0 3032.4C485.2 3034.8 488.7 3042.1 491.6 3046.7C494.6 3051.3 497.7 3055.5 501.5 3059.9C505.4 3064.3 509.8 3068.9 514.7 3073.1C519.7 3077.3 525.3 3081.9 531.2 3085.2C537.1 3088.5 543.8 3091.0 549.9 3092.9C555.9 3094.7 564.5 3095.8 567.5 3096.4" stroke="#4639da" stroke-width="4"/>
<path d="M502.1 2981.3C500.9 2982.1 496.5 2982.7 494.9 2985.7C493.4 2988.7 492.7 2994.8 492.7 2999.5C492.7 3004.1 493.8 3009.2 494.9 3013.7C496.0 3018.3 497.7 3023.3 499.3 3026.9C501.0 3030.6 503.4 3032.8 504.8 3035.7C506.3 3038.6 507.4 3041.8 508.1 3044.5C508.8 3047.2 508.9 3050.5 509.0 3051.6" stroke="#3e26a8" stroke-width="5" stroke-linecap="round"/>
<path d="M496.0 2998.9C497.0 2999.0 500.1 2997.6 501.5 2999.7C503.0 3001.8 503.9 3007.0 504.8 3011.5C505.8 3016.1 506.4 3022.5 507.0 3026.9C507.6 3031.3 508.1 3036.1 508.4 3037.9" stroke="#3e26a8" stroke-width="4"/>
<path d="M507.3 3037.9C507.5 3040.1 508.4 3048.9 508.7 3051.1" stroke="#3e26a8" stroke-width="8"/>
<path d="M514.7 2950.0C514.9 2953.7 515.1 2964.7 515.8 2972.0C516.6 2979.3 517.7 2986.6 519.1 2994.0C520.6 3001.3 522.2 3008.6 524.6 3015.9C527.0 3023.3 529.9 3031.0 533.4 3037.9C536.9 3044.9 540.9 3051.8 545.5 3057.7C550.1 3063.6 555.0 3068.7 560.9 3073.1C566.7 3077.5 574.1 3081.3 580.7 3084.1C587.2 3086.8 596.8 3088.6 600.0 3089.6" stroke="#4639da" stroke-width="6"/>
<path d="M521.3 2950.0C521.3 2953.7 521.0 2964.7 521.3 2972.0C521.7 2979.3 522.2 2986.6 523.5 2994.0C524.8 3001.3 526.8 3009.0 529.0 3015.9C531.2 3022.9 533.2 3029.3 536.7 3035.7C540.2 3042.1 544.9 3048.9 549.9 3054.4C554.8 3059.9 560.9 3064.8 566.4 3068.7C571.9 3072.5 577.3 3075.3 582.9 3077.5C588.5 3079.7 597.1 3081.1 600.0 3081.9" stroke="#4852f4" stroke-width="6"/>
<path d="M505.9 2950.0C506.1 2952.2 506.8 2961.0 507.0 2963.2" stroke="#4639da" stroke-width="6" stroke-linecap="round"/>
<path d="M559.8 3054.9C563.6 3056.5 576.2 3062.3 582.9 3064.3C589.6 3066.2 597.1 3066.3 600.0 3066.7" stroke="#3e26a8" stroke-width="4"/>
<ellipse cx="553.7" cy="3091.2" rx="6.0" ry="3.1" stroke="#4639da" stroke-width="3" transform="rotate(12 553.7 3091.2)" fill="#4639da"/>
<path d="M567.5 3089.8C570.0 3090.5 577.4 3092.9 582.9 3094.2C588.3 3095.5 597.1 3096.9 600.0 3097.5" stroke="#4639da" stroke-width="10" stroke-linecap="round"/>
<path d="M546.6 3097.3C549.9 3098.2 560.3 3101.2 566.4 3102.7C572.4 3104.2 580.1 3105.7 582.9 3106.3" stroke="#4852f4" stroke-width="6"/>
<path d="M600.0 3119.2C602.0 3118.9 608.5 3118.9 612.0 3117.5C615.5 3116.1 619.0 3113.2 621.0 3111.0C623.0 3108.8 624.5 3105.9 624.0 3104.0C623.5 3102.1 621.0 3100.5 618.0 3099.5C615.0 3098.5 609.3 3098.4 606.0 3098.0C602.7 3097.6 599.3 3097.2 598.0 3097.0" stroke="#4639da" stroke-width="4"/>
<path d="M600.0 3114.8C601.7 3114.5 607.2 3114.1 610.0 3113.0C612.8 3111.9 615.7 3109.6 616.5 3108.0C617.3 3106.4 616.8 3104.4 615.0 3103.5C613.2 3102.6 610.2 3102.8 606.0 3102.5C601.8 3102.2 592.7 3102.1 590.0 3102.0" stroke="#4639da" stroke-width="4"/></g>
<g transform="rotate(180 589.8 2985.3)"><path d="M600.0 2876.9C595.3 2876.7 580.2 2876.1 571.9 2875.8C563.5 2875.4 556.3 2874.7 549.9 2874.7C543.5 2874.7 538.9 2875.0 533.4 2875.8C527.9 2876.5 522.2 2877.4 516.9 2879.1C511.6 2880.7 506.5 2882.9 501.5 2885.7C496.6 2888.4 489.6 2893.9 487.3 2895.5" stroke="#4639da" stroke-width="6.5"/>
<path d="M487.3 2895.5C485.4 2897.4 479.6 2902.5 476.3 2906.5C473.0 2910.6 470.0 2915.3 467.5 2919.7C464.9 2924.1 462.7 2928.5 460.9 2932.9C459.0 2937.3 457.8 2940.8 456.5 2946.1C455.2 2951.4 453.7 2961.8 453.2 2965.0" stroke="#4639da" stroke-width="4.2"/>
<path d="M480.7 2910.9C479.4 2912.8 475.5 2917.3 473.0 2921.9C470.4 2926.5 467.2 2933.1 465.3 2938.4C463.4 2943.7 462.1 2951.2 461.4 2953.8" stroke="#4639da" stroke-width="6" stroke-linecap="round"/>
<ellipse cx="538.4" cy="2868.6" rx="8.2" ry="3.7" stroke="#4852f4" stroke-width="3" fill="#4852f4"/>
<path d="M600.0 2884.6C595.3 2884.4 580.2 2883.3 571.9 2883.5C563.5 2883.6 556.3 2884.4 549.9 2885.7C543.5 2886.9 538.5 2888.8 533.4 2891.2C528.3 2893.5 523.7 2896.6 519.1 2899.9C514.5 2903.2 510.0 2906.9 505.9 2910.9C501.9 2915.0 498.1 2919.5 494.9 2924.1C491.8 2928.7 489.4 2934.5 487.3 2938.4C485.1 2942.3 483.1 2946.2 482.3 2947.7" stroke="#4852f4" stroke-width="6" stroke-linecap="round"/>
<path d="M600.0 2889.2C593.5 2889.2 571.1 2888.3 560.9 2889.2C550.7 2890.1 545.3 2892.3 538.9 2894.7C532.5 2897.1 526.5 2900.8 522.4 2903.5C518.3 2906.1 515.5 2909.5 514.2 2910.7" stroke="#3e26a8" stroke-width="5"/>
<path d="M600.0 2893.9C593.5 2894.3 571.1 2894.7 560.9 2896.4C550.7 2898.2 544.9 2901.3 538.9 2904.3C532.9 2907.4 527.0 2913.0 524.6 2914.8" stroke="#4852f4" stroke-width="5.5" stroke-linecap="round"/>
<path d="M600.0 2902.1C595.3 2902.1 580.2 2901.4 571.9 2902.1C563.5 2902.9 556.3 2904.3 549.9 2906.5C543.5 2908.7 538.0 2912.0 533.4 2915.3C528.8 2918.6 525.1 2922.3 522.4 2926.3C519.8 2930.3 518.7 2934.7 517.5 2939.5C516.3 2944.3 515.8 2950.6 515.3 2954.9C514.7 2959.1 514.4 2963.3 514.2 2965.0" stroke="#4639da" stroke-width="5"/>
<path d="M600.0 2905.7C593.5 2906.0 571.1 2906.0 560.9 2907.9C550.7 2909.7 544.6 2913.6 538.9 2917.0C533.2 2920.3 529.9 2923.5 526.8 2928.0C523.7 2932.5 521.7 2937.7 520.2 2943.9C518.7 2950.1 518.2 2961.5 517.8 2965.0" stroke="#3e26a8" stroke-width="3.5"/>
<path d="M516.9 2913.1C515.8 2914.6 511.8 2919.0 510.3 2921.9C508.9 2924.9 507.2 2928.9 508.1 2930.7C509.0 2932.5 514.3 2932.0 515.8 2932.9C517.4 2933.8 517.6 2934.4 517.5 2936.2C517.4 2938.0 516.3 2941.2 515.3 2943.9C514.3 2946.6 512.3 2949.2 511.4 2952.7C510.6 2956.2 510.5 2962.9 510.3 2965.0" stroke="#4639da" stroke-width="4"/>
<path d="M497.1 2921.9C496.2 2924.3 492.7 2932.7 491.6 2936.2C490.5 2939.7 490.0 2941.5 490.5 2942.8C491.1 2944.1 494.0 2942.6 494.9 2943.9C495.9 2945.2 495.2 2949.2 496.3 2950.5C497.4 2951.8 499.8 2951.0 501.5 2951.6C503.2 2952.2 505.0 2952.4 506.5 2954.0C507.9 2955.7 509.7 2960.2 510.3 2961.5" stroke="#4639da" stroke-width="4"/>
<path d="M484.0 2956.0C483.6 2957.5 482.1 2963.5 481.8 2965.0" stroke="#4639da" stroke-width="8" stroke-linecap="round"/>
<path d="M454.3 2950.0C453.9 2952.7 452.1 2961.0 452.1 2966.5C452.1 2972.0 452.8 2977.5 454.3 2983.0C455.8 2988.5 459.4 2994.0 460.9 2999.5C462.3 3004.9 462.2 3010.4 463.1 3015.9C464.0 3021.4 464.7 3026.9 466.4 3032.4C468.0 3037.9 470.4 3043.6 473.0 3048.9C475.5 3054.2 478.5 3059.3 481.8 3064.3C485.1 3069.2 488.4 3074.0 492.7 3078.6C497.1 3083.2 502.3 3087.7 508.1 3091.8C514.0 3095.8 521.0 3099.6 527.9 3102.7C534.9 3105.9 542.6 3108.2 549.9 3110.4C557.2 3112.6 563.5 3114.5 571.9 3115.9C580.2 3117.4 595.3 3118.7 600.0 3119.2" stroke="#4639da" stroke-width="4"/>
<path d="M467.5 3020.3C468.4 3023.3 470.8 3032.4 473.0 3037.9C475.2 3043.4 477.7 3048.2 480.7 3053.3C483.6 3058.4 486.7 3063.9 490.5 3068.7C494.4 3073.4 498.6 3077.7 503.7 3081.9C508.9 3086.1 515.1 3090.5 521.3 3094.0C527.5 3097.4 534.5 3100.4 541.1 3102.7C547.7 3105.1 553.9 3106.6 560.9 3108.2C567.8 3109.9 576.3 3111.5 582.9 3112.6C589.4 3113.7 597.1 3114.5 600.0 3114.8" stroke="#4639da" stroke-width="4"/>
<path d="M467.5 3007.1C468.2 3008.6 470.4 3013.0 471.9 3015.9C473.3 3018.9 474.8 3022.3 476.3 3024.7C477.8 3027.2 480.1 3029.8 480.9 3030.8" stroke="#4639da" stroke-width="8" stroke-linecap="round"/>
<path d="M469.1 2970.3C469.1 2972.4 468.6 2978.4 468.8 2983.0C469.0 2987.5 470.3 2995.3 470.5 2997.8" stroke="#3e26a8" stroke-width="5" stroke-linecap="round"/>
<path d="M476.3 2966.5C476.1 2969.2 475.4 2977.5 475.4 2983.0C475.4 2988.5 475.8 2994.0 476.3 2999.5C476.7 3004.9 477.2 3011.0 477.9 3015.9C478.6 3020.9 480.2 3026.9 480.7 3029.1" stroke="#4639da" stroke-width="6"/>
<path d="M462.0 2950.0C461.9 2951.1 461.5 2955.5 461.4 2956.6" stroke="#4639da" stroke-width="6" stroke-linecap="round"/>
<path d="M482.9 2956.6C482.3 2959.2 479.9 2967.0 479.6 2972.0C479.2 2976.9 479.8 2983.9 480.9 2986.3C482.0 2988.6 484.2 2987.5 486.2 2986.3C488.1 2985.0 490.9 2980.8 492.7 2978.6C494.6 2976.4 495.5 2974.2 497.1 2973.1C498.8 2972.0 500.8 2971.1 502.6 2972.0C504.5 2972.9 506.7 2975.3 508.1 2978.6C509.6 2981.9 510.5 2987.0 511.4 2991.8C512.4 2996.5 513.4 3004.6 513.8 3007.1" stroke="#4639da" stroke-width="4"/>
<path d="M478.5 3002.7C479.2 3005.7 481.0 3014.8 482.9 3020.3C484.7 3025.8 487.1 3031.0 489.5 3035.7C491.8 3040.5 494.6 3045.4 497.1 3048.9C499.7 3052.4 502.3 3055.3 504.8 3056.6C507.4 3057.9 510.7 3057.9 512.5 3056.6C514.4 3055.3 515.5 3053.8 515.8 3048.9C516.2 3044.0 515.5 3034.4 514.7 3026.9C513.9 3019.4 511.5 3007.7 510.9 3003.8" stroke="#4639da" stroke-width="4"/>
<path d="M484.0 3032.4C485.2 3034.8 488.7 3042.1 491.6 3046.7C494.6 3051.3 497.7 3055.5 501.5 3059.9C505.4 3064.3 509.8 3068.9 514.7 3073.1C519.7 3077.3 525.3 3081.9 531.2 3085.2C537.1 3088.5 543.8 3091.0 549.9 3092.9C555.9 3094.7 564.5 3095.8 567.5 3096.4" stroke="#4639da" stroke-width="4"/>
<path d="M502.1 2981.3C500.9 2982.1 496.5 2982.7 494.9 2985.7C493.4 2988.7 492.7 2994.8 492.7 2999.5C492.7 3004.1 493.8 3009.2 494.9 3013.7C496.0 3018.3 497.7 3023.3 499.3 3026.9C501.0 3030.6 503.4 3032.8 504.8 3035.7C506.3 3038.6 507.4 3041.8 508.1 3044.5C508.8 3047.2 508.9 3050.5 509.0 3051.6" stroke="#3e26a8" stroke-width="5" stroke-linecap="round"/>
<path d="M496.0 2998.9C497.0 2999.0 500.1 2997.6 501.5 2999.7C503.0 3001.8 503.9 3007.0 504.8 3011.5C505.8 3016.1 506.4 3022.5 507.0 3026.9C507.6 3031.3 508.1 3036.1 508.4 3037.9" stroke="#3e26a8" stroke-width="4"/>
<path d="M507.3 3037.9C507.5 3040.1 508.4 3048.9 508.7 3051.1" stroke="#3e26a8" stroke-width="8"/>
<path d="M514.7 2950.0C514.9 2953.7 515.1 2964.7 515.8 2972.0C516.6 2979.3 517.7 2986.6 519.1 2994.0C520.6 3001.3 522.2 3008.6 524.6 3015.9C527.0 3023.3 529.9 3031.0 533.4 3037.9C536.9 3044.9 540.9 3051.8 545.5 3057.7C550.1 3063.6 555.0 3068.7 560.9 3073.1C566.7 3077.5 574.1 3081.3 580.7 3084.1C587.2 3086.8 596.8 3088.6 600.0 3089.6" stroke="#4639da" stroke-width="6"/>
<path d="M521.3 2950.0C521.3 2953.7 521.0 2964.7 521.3 2972.0C521.7 2979.3 522.2 2986.6 523.5 2994.0C524.8 3001.3 526.8 3009.0 529.0 3015.9C531.2 3022.9 533.2 3029.3 536.7 3035.7C540.2 3042.1 544.9 3048.9 549.9 3054.4C554.8 3059.9 560.9 3064.8 566.4 3068.7C571.9 3072.5 577.3 3075.3 582.9 3077.5C588.5 3079.7 597.1 3081.1 600.0 3081.9" stroke="#4852f4" stroke-width="6"/>
<path d="M505.9 2950.0C506.1 2952.2 506.8 2961.0 507.0 2963.2" stroke="#4639da" stroke-width="6" stroke-linecap="round"/>
<path d="M559.8 3054.9C563.6 3056.5 576.2 3062.3 582.9 3064.3C589.6 3066.2 597.1 3066.3 600.0 3066.7" stroke="#3e26a8" stroke-width="4"/>
<ellipse cx="553.7" cy="3091.2" rx="6.0" ry="3.1" stroke="#4639da" stroke-width="3" transform="rotate(12 553.7 3091.2)" fill="#4639da"/>
<path d="M567.5 3089.8C570.0 3090.5 577.4 3092.9 582.9 3094.2C588.3 3095.5 597.1 3096.9 600.0 3097.5" stroke="#4639da" stroke-width="10" stroke-linecap="round"/>
<path d="M546.6 3097.3C549.9 3098.2 560.3 3101.2 566.4 3102.7C572.4 3104.2 580.1 3105.7 582.9 3106.3" stroke="#4852f4" stroke-width="6"/>
<path d="M600.0 3119.2C602.0 3118.9 608.5 3118.9 612.0 3117.5C615.5 3116.1 619.0 3113.2 621.0 3111.0C623.0 3108.8 624.5 3105.9 624.0 3104.0C623.5 3102.1 621.0 3100.5 618.0 3099.5C615.0 3098.5 609.3 3098.4 606.0 3098.0C602.7 3097.6 599.3 3097.2 598.0 3097.0" stroke="#4639da" stroke-width="4"/>
<path d="M600.0 3114.8C601.7 3114.5 607.2 3114.1 610.0 3113.0C612.8 3111.9 615.7 3109.6 616.5 3108.0C617.3 3106.4 616.8 3104.4 615.0 3103.5C613.2 3102.6 610.2 3102.8 606.0 3102.5C601.8 3102.2 592.7 3102.1 590.0 3102.0" stroke="#4639da" stroke-width="4"/></g>
<ellipse cx="589.8" cy="2985.3" rx="74.7" ry="94.2" stroke="#4639da" stroke-width="6.5" transform="rotate(-14 589.8 2985.3)"/>
<ellipse cx="589.8" cy="2985.3" rx="72.3" ry="87.1" stroke="#4852f4" stroke-width="4.2" transform="rotate(-14 589.8 2985.3)"/>
<ellipse cx="589.8" cy="2985.3" rx="69.9" ry="83.4" stroke="#4639da" stroke-width="4.2" transform="rotate(-14 589.8 2985.3)"/>
<ellipse cx="589.8" cy="2985.3" rx="67.4" ry="80.3" stroke="#3e26a8" stroke-width="4.2" transform="rotate(-14 589.8 2985.3)"/>
<ellipse cx="589.8" cy="2985.3" rx="66.0" ry="77.4" stroke="#4639da" stroke-width="4.2" transform="rotate(-14 589.8 2985.3)"/>
<ellipse cx="589.8" cy="2985.3" rx="63.1" ry="74.6" stroke="#4852f4" stroke-width="4.2" transform="rotate(-13.657142857142857 589.8 2985.3)"/>
<ellipse cx="589.8" cy="2985.3" rx="59.5" ry="71.0" stroke="#406cfe" stroke-width="4.2" transform="rotate(-12.457142857142857 589.8 2985.3)"/>
<ellipse cx="589.8" cy="2985.3" rx="54.0" ry="62.5" stroke="#2e87f7" stroke-width="4.2" transform="rotate(-9.645714285714284 589.8 2985.3)"/>
<ellipse cx="589.8" cy="2985.3" rx="49.9" ry="57.0" stroke="#249ee6" stroke-width="4.2" transform="rotate(-7.794285714285714 589.8 2985.3)"/>
<ellipse cx="589.8" cy="2985.3" rx="46.0" ry="51.9" stroke="#12b1d6" stroke-width="4.2" transform="rotate(-6.0457142857142845 589.8 2985.3)"/>
<ellipse cx="589.8" cy="2985.3" rx="42.4" ry="47.5" stroke="#12beb9" stroke-width="4.2" transform="rotate(-4.571428571428571 589.8 2985.3)"/>
<ellipse cx="589.8" cy="2985.3" rx="38.7" ry="43.4" stroke="#37c897" stroke-width="4.2" transform="rotate(-3.1657142857142855 589.8 2985.3)"/>
<ellipse cx="589.8" cy="2985.3" rx="35.0" ry="39.1" stroke="#6bcd69" stroke-width="4.2" transform="rotate(-2 589.8 2985.3)"/>
<ellipse cx="589.8" cy="2985.3" rx="31.2" ry="35.0" stroke="#abc739" stroke-width="4.2" transform="rotate(-2 589.8 2985.3)"/>
<ellipse cx="589.8" cy="2985.3" rx="27.4" ry="30.8" stroke="#e1bc2b" stroke-width="4.2" transform="rotate(-2 589.8 2985.3)"/>
<ellipse cx="589.8" cy="2985.3" rx="22.8" ry="26.3" stroke="#fec338" stroke-width="4.2" transform="rotate(-2 589.8 2985.3)"/>
<ellipse cx="589.8" cy="2985.3" rx="17.6" ry="21.4" stroke="#f6df29" stroke-width="4.2" transform="rotate(-2 589.8 2985.3)"/>
<ellipse cx="589.8" cy="2985.3" rx="12.7" ry="13.6" stroke="#f9fb15" stroke-width="4.2" transform="rotate(-2 589.8 2985.3)"/>
</g>
<g fill="none" stroke-linejoin="round">
<g><path d="M1690.7 2871.1C1688.1 2870.2 1677.9 2867.7 1675.3 2865.8C1672.6 2863.9 1673.7 2861.4 1674.8 2859.7C1675.9 2857.9 1678.5 2856.5 1681.9 2855.5C1685.2 2854.5 1687.7 2853.8 1695.1 2853.7C1702.4 2853.7 1715.2 2853.5 1725.8 2855.1C1736.4 2856.6 1748.5 2859.5 1758.8 2863.0C1769.0 2866.5 1778.9 2871.0 1787.4 2876.2C1795.8 2881.4 1803.1 2887.2 1809.3 2894.2C1815.6 2901.1 1820.6 2909.6 1824.7 2917.9C1828.8 2926.3 1831.3 2935.1 1834.0 2944.3C1836.6 2953.4 1838.9 2962.6 1840.5 2972.9C1842.2 2983.1 1844.0 2995.2 1843.6 3005.8C1843.3 3016.4 1841.4 3027.1 1838.4 3036.6C1835.3 3046.1 1831.0 3054.9 1825.2 3063.0C1819.3 3071.0 1811.6 3079.0 1803.2 3084.9C1794.8 3090.9 1783.8 3095.6 1774.6 3098.6C1765.4 3101.5 1756.1 3102.5 1747.8 3102.5C1739.5 3102.6 1728.8 3099.6 1724.9 3099.0" stroke="#3e26a8" stroke-width="4.2"/>
<path d="M1601.6 3015.7C1601.3 3012.6 1599.3 3003.4 1599.5 2997.0C1599.6 2990.6 1601.4 2984.2 1602.3 2977.3C1603.2 2970.3 1603.2 2962.6 1604.9 2955.3C1606.7 2947.9 1609.2 2940.1 1612.6 2933.3C1616.1 2926.5 1620.7 2920.2 1625.8 2914.6C1631.0 2909.0 1637.2 2904.0 1643.4 2899.9C1649.6 2895.8 1656.6 2892.3 1663.2 2890.0C1669.8 2887.7 1676.2 2887.1 1683.0 2886.3C1689.7 2885.4 1696.9 2884.4 1703.8 2884.9C1710.8 2885.5 1717.9 2886.8 1724.7 2889.3C1731.5 2891.8 1738.4 2895.4 1744.5 2899.9C1750.6 2904.4 1756.4 2910.1 1761.4 2916.2C1766.4 2922.2 1771.0 2929.0 1774.6 2935.9C1778.3 2942.9 1780.6 2950.7 1783.4 2957.9C1786.2 2965.2 1789.6 2974.3 1791.3 2979.5C1793.1 2984.6 1792.1 2988.6 1794.0 2988.7C1795.9 2988.8 1800.7 2983.9 1802.7 2979.9C1804.8 2975.9 1806.3 2969.3 1806.0 2964.5C1805.8 2959.7 1803.4 2955.2 1801.0 2951.3C1798.5 2947.4 1793.9 2945.6 1791.3 2941.2C1788.8 2936.8 1787.7 2930.6 1785.6 2924.9C1783.6 2919.3 1782.0 2912.6 1779.0 2907.4C1776.0 2902.2 1771.7 2897.9 1767.6 2893.7C1763.5 2889.6 1758.4 2885.6 1754.4 2882.3C1750.4 2879.0 1742.3 2874.3 1743.4 2874.0C1744.5 2873.6 1754.4 2877.5 1761.0 2880.1C1767.6 2882.7 1776.0 2885.6 1783.0 2889.8C1789.9 2894.0 1797.3 2899.3 1802.7 2905.2C1808.2 2911.0 1812.3 2917.6 1815.9 2924.9C1819.6 2932.3 1822.3 2941.1 1824.7 2949.1C1827.1 2957.2 1829.0 2966.0 1830.2 2973.3C1831.4 2980.6 1832.2 2988.3 1831.8 2993.1C1831.3 2997.8 1828.8 3002.6 1827.4 3001.9C1825.9 3001.1 1824.3 2994.5 1823.0 2988.7C1821.6 2982.8 1820.7 2972.3 1819.5 2966.7C1818.2 2961.1 1816.5 2956.9 1815.5 2954.8C1814.5 2952.8 1813.8 2954.5 1813.5 2954.4" stroke="#4639da" stroke-width="4"/>
<path d="M1601.0 2915.3C1601.7 2913.6 1604.4 2910.0 1607.6 2907.4C1610.8 2904.7 1615.3 2902.2 1620.3 2899.2C1625.4 2896.3 1632.4 2892.3 1637.9 2889.8C1643.4 2887.2 1648.7 2885.3 1653.3 2883.8C1657.9 2882.4 1663.3 2881.1 1665.4 2881.0C1667.5 2880.9 1668.1 2882.0 1666.0 2883.2C1664.0 2884.4 1658.0 2886.2 1653.3 2888.2C1648.6 2890.3 1643.0 2892.7 1637.9 2895.5C1632.8 2898.2 1627.1 2901.9 1622.5 2904.7C1617.9 2907.5 1613.7 2910.3 1610.4 2912.4C1607.2 2914.5 1604.8 2917.0 1603.2 2917.5C1601.6 2917.9 1600.3 2917.0 1601.0 2915.3Z" stroke="#4639da" stroke-width="4"/>
<path d="M1628.0 2947.6C1627.5 2946.1 1626.4 2943.7 1627.4 2939.9C1628.3 2936.0 1629.9 2929.2 1633.5 2924.5C1637.1 2919.8 1643.0 2915.3 1648.9 2911.8C1654.8 2908.2 1662.5 2904.9 1668.7 2903.0C1674.9 2901.0 1683.3 2900.0 1686.3 2899.9C1689.3 2899.7 1688.9 2900.8 1686.7 2902.1C1684.5 2903.3 1677.9 2904.8 1673.1 2907.4C1668.2 2909.9 1662.6 2913.5 1657.7 2917.5C1652.7 2921.4 1647.3 2926.8 1643.4 2931.1C1639.6 2935.4 1636.8 2940.3 1634.6 2943.2C1632.4 2946.1 1631.3 2947.9 1630.2 2948.7C1629.1 2949.4 1628.5 2949.0 1628.0 2947.6Z" stroke="#4639da" stroke-width="4"/></g>
<g transform="rotate(180 1707.4 2984.9)"><path d="M1690.7 2871.1C1688.1 2870.2 1677.9 2867.7 1675.3 2865.8C1672.6 2863.9 1673.7 2861.4 1674.8 2859.7C1675.9 2857.9 1678.5 2856.5 1681.9 2855.5C1685.2 2854.5 1687.7 2853.8 1695.1 2853.7C1702.4 2853.7 1715.2 2853.5 1725.8 2855.1C1736.4 2856.6 1748.5 2859.5 1758.8 2863.0C1769.0 2866.5 1778.9 2871.0 1787.4 2876.2C1795.8 2881.4 1803.1 2887.2 1809.3 2894.2C1815.6 2901.1 1820.6 2909.6 1824.7 2917.9C1828.8 2926.3 1831.3 2935.1 1834.0 2944.3C1836.6 2953.4 1838.9 2962.6 1840.5 2972.9C1842.2 2983.1 1844.0 2995.2 1843.6 3005.8C1843.3 3016.4 1841.4 3027.1 1838.4 3036.6C1835.3 3046.1 1831.0 3054.9 1825.2 3063.0C1819.3 3071.0 1811.6 3079.0 1803.2 3084.9C1794.8 3090.9 1783.8 3095.6 1774.6 3098.6C1765.4 3101.5 1756.1 3102.5 1747.8 3102.5C1739.5 3102.6 1728.8 3099.6 1724.9 3099.0" stroke="#3e26a8" stroke-width="4.2"/>
<path d="M1601.6 3015.7C1601.3 3012.6 1599.3 3003.4 1599.5 2997.0C1599.6 2990.6 1601.4 2984.2 1602.3 2977.3C1603.2 2970.3 1603.2 2962.6 1604.9 2955.3C1606.7 2947.9 1609.2 2940.1 1612.6 2933.3C1616.1 2926.5 1620.7 2920.2 1625.8 2914.6C1631.0 2909.0 1637.2 2904.0 1643.4 2899.9C1649.6 2895.8 1656.6 2892.3 1663.2 2890.0C1669.8 2887.7 1676.2 2887.1 1683.0 2886.3C1689.7 2885.4 1696.9 2884.4 1703.8 2884.9C1710.8 2885.5 1717.9 2886.8 1724.7 2889.3C1731.5 2891.8 1738.4 2895.4 1744.5 2899.9C1750.6 2904.4 1756.4 2910.1 1761.4 2916.2C1766.4 2922.2 1771.0 2929.0 1774.6 2935.9C1778.3 2942.9 1780.6 2950.7 1783.4 2957.9C1786.2 2965.2 1789.6 2974.3 1791.3 2979.5C1793.1 2984.6 1792.1 2988.6 1794.0 2988.7C1795.9 2988.8 1800.7 2983.9 1802.7 2979.9C1804.8 2975.9 1806.3 2969.3 1806.0 2964.5C1805.8 2959.7 1803.4 2955.2 1801.0 2951.3C1798.5 2947.4 1793.9 2945.6 1791.3 2941.2C1788.8 2936.8 1787.7 2930.6 1785.6 2924.9C1783.6 2919.3 1782.0 2912.6 1779.0 2907.4C1776.0 2902.2 1771.7 2897.9 1767.6 2893.7C1763.5 2889.6 1758.4 2885.6 1754.4 2882.3C1750.4 2879.0 1742.3 2874.3 1743.4 2874.0C1744.5 2873.6 1754.4 2877.5 1761.0 2880.1C1767.6 2882.7 1776.0 2885.6 1783.0 2889.8C1789.9 2894.0 1797.3 2899.3 1802.7 2905.2C1808.2 2911.0 1812.3 2917.6 1815.9 2924.9C1819.6 2932.3 1822.3 2941.1 1824.7 2949.1C1827.1 2957.2 1829.0 2966.0 1830.2 2973.3C1831.4 2980.6 1832.2 2988.3 1831.8 2993.1C1831.3 2997.8 1828.8 3002.6 1827.4 3001.9C1825.9 3001.1 1824.3 2994.5 1823.0 2988.7C1821.6 2982.8 1820.7 2972.3 1819.5 2966.7C1818.2 2961.1 1816.5 2956.9 1815.5 2954.8C1814.5 2952.8 1813.8 2954.5 1813.5 2954.4" stroke="#4639da" stroke-width="4"/>
<path d="M1601.0 2915.3C1601.7 2913.6 1604.4 2910.0 1607.6 2907.4C1610.8 2904.7 1615.3 2902.2 1620.3 2899.2C1625.4 2896.3 1632.4 2892.3 1637.9 2889.8C1643.4 2887.2 1648.7 2885.3 1653.3 2883.8C1657.9 2882.4 1663.3 2881.1 1665.4 2881.0C1667.5 2880.9 1668.1 2882.0 1666.0 2883.2C1664.0 2884.4 1658.0 2886.2 1653.3 2888.2C1648.6 2890.3 1643.0 2892.7 1637.9 2895.5C1632.8 2898.2 1627.1 2901.9 1622.5 2904.7C1617.9 2907.5 1613.7 2910.3 1610.4 2912.4C1607.2 2914.5 1604.8 2917.0 1603.2 2917.5C1601.6 2917.9 1600.3 2917.0 1601.0 2915.3Z" stroke="#4639da" stroke-width="4"/>
<path d="M1628.0 2947.6C1627.5 2946.1 1626.4 2943.7 1627.4 2939.9C1628.3 2936.0 1629.9 2929.2 1633.5 2924.5C1637.1 2919.8 1643.0 2915.3 1648.9 2911.8C1654.8 2908.2 1662.5 2904.9 1668.7 2903.0C1674.9 2901.0 1683.3 2900.0 1686.3 2899.9C1689.3 2899.7 1688.9 2900.8 1686.7 2902.1C1684.5 2903.3 1677.9 2904.8 1673.1 2907.4C1668.2 2909.9 1662.6 2913.5 1657.7 2917.5C1652.7 2921.4 1647.3 2926.8 1643.4 2931.1C1639.6 2935.4 1636.8 2940.3 1634.6 2943.2C1632.4 2946.1 1631.3 2947.9 1630.2 2948.7C1629.1 2949.4 1628.5 2949.0 1628.0 2947.6Z" stroke="#4639da" stroke-width="4"/></g>
<ellipse cx="1707.4" cy="2984.9" rx="69.8" ry="79.9" stroke="#4852f4" stroke-width="4.0" transform="rotate(-15 1707.4 2984.9)"/>
<ellipse cx="1707.4" cy="2984.9" rx="66.5" ry="76.6" stroke="#406cfe" stroke-width="4.0" transform="rotate(-15 1707.4 2984.9)"/>
<ellipse cx="1707.4" cy="2984.9" rx="63.7" ry="73.4" stroke="#2e87f7" stroke-width="4.0" transform="rotate(-14.020000000000003 1707.4 2984.9)"/>
<ellipse cx="1707.4" cy="2984.9" rx="61.0" ry="70.0" stroke="#249ee6" stroke-width="4.0" transform="rotate(-12.479999999999997 1707.4 2984.9)"/>
<ellipse cx="1707.4" cy="2984.9" rx="58.1" ry="66.1" stroke="#12b1d6" stroke-width="4.0" transform="rotate(-10.706666666666665 1707.4 2984.9)"/>
<ellipse cx="1707.4" cy="2984.9" rx="54.6" ry="62.3" stroke="#12beb9" stroke-width="4.0" transform="rotate(-8.98 1707.4 2984.9)"/>
<ellipse cx="1707.4" cy="2984.9" rx="50.3" ry="57.2" stroke="#37c897" stroke-width="4.0" transform="rotate(-6.646666666666667 1707.4 2984.9)"/>
<ellipse cx="1707.4" cy="2984.9" rx="44.4" ry="50.0" stroke="#6bcd69" stroke-width="4.0" transform="rotate(-3.333333333333333 1707.4 2984.9)"/>
<ellipse cx="1707.4" cy="2984.9" rx="39.3" ry="43.9" stroke="#abc739" stroke-width="4.0" transform="rotate(-1 1707.4 2984.9)"/>
<ellipse cx="1707.4" cy="2984.9" rx="34.4" ry="38.2" stroke="#e1bc2b" stroke-width="4.0" transform="rotate(-1 1707.4 2984.9)"/>
<ellipse cx="1707.4" cy="2984.9" rx="29.5" ry="33.1" stroke="#fec338" stroke-width="4.0" transform="rotate(-1 1707.4 2984.9)"/>
<ellipse cx="1707.4" cy="2984.9" rx="24.2" ry="26.8" stroke="#f6df29" stroke-width="4.0" transform="rotate(-1 1707.4 2984.9)"/>
<ellipse cx="1707.4" cy="2984.9" rx="16.5" ry="17.9" stroke="#f9fb15" stroke-width="4.0" transform="rotate(-1 1707.4 2984.9)"/>
</g>
</g>
<g transform="translate(0,0)">
<rect x="164" y="94" width="849" height="884" fill="none" stroke="#262626" stroke-width="4"/>
<path d="M251.0 978V967M251.0 94V105M589.5 978V967M589.5 94V105M928.0 978V967M928.0 94V105M164 112.5H175M1013 112.5H1002M164 253.4H175M1013 253.4H1002M164 394.3H175M1013 394.3H1002M164 535.2H175M1013 535.2H1002M164 676.2H175M1013 676.2H1002M164 817.1H175M1013 817.1H1002M164 958.0H175M1013 958.0H1002" stroke="#262626" stroke-width="3.6" fill="none"/>
<g font-size="52" fill="#262626">
<text x="247.6" y="1050.2" text-anchor="middle">−5</text>
<text x="586.5" y="1047.2" text-anchor="middle">0</text>
<text x="925.0" y="1047.2" text-anchor="middle">5</text>
<text x="142.4" y="132.1" text-anchor="end">6</text>
<text x="142.4" y="273.0" text-anchor="end">4</text>
<text x="142.4" y="413.9" text-anchor="end">2</text>
<text x="142.4" y="554.9" text-anchor="end">0</text>
<text x="146.4" y="698.8" text-anchor="end">−2</text>
<text x="146.4" y="839.7" text-anchor="end">−4</text>
<text x="146.4" y="980.6" text-anchor="end">−6</text>
</g>
<text x="568.8" y="1119.6" font-size="57.5" fill="#262626" text-anchor="middle">longitude</text>
<text transform="translate(66,553.8) rotate(-90)" font-size="57.5" fill="#262626" text-anchor="middle">latitude</text>
<text x="404.2" y="66.4" font-size="57.5" font-weight="bold" fill="#000">Vorticity,t0</text>
</g>
<g transform="translate(1116,0)">
<rect x="164" y="94" width="853" height="884" fill="none" stroke="#262626" stroke-width="4"/>
<path d="M251.0 978V967M251.0 94V105M591.2 978V967M591.2 94V105M931.5 978V967M931.5 94V105M164 112.5H175M1017 112.5H1006M164 253.4H175M1017 253.4H1006M164 394.3H175M1017 394.3H1006M164 535.2H175M1017 535.2H1006M164 676.2H175M1017 676.2H1006M164 817.1H175M1017 817.1H1006M164 958.0H175M1017 958.0H1006" stroke="#262626" stroke-width="3.6" fill="none"/>
<g font-size="52" fill="#262626">
<text x="241.1" y="1050.2" text-anchor="middle">−5</text>
<text x="588.25" y="1047.2" text-anchor="middle">0</text>
<text x="928.5" y="1047.2" text-anchor="middle">5</text>
<text x="142.4" y="132.1" text-anchor="end">6</text>
<text x="142.4" y="273.0" text-anchor="end">4</text>
<text x="142.4" y="413.9" text-anchor="end">2</text>
<text x="142.4" y="554.9" text-anchor="end">0</text>
<text x="139.9" y="698.8" text-anchor="end">−2</text>
<text x="139.9" y="839.7" text-anchor="end">−4</text>
<text x="139.9" y="980.6" text-anchor="end">−6</text>
</g>
<text x="571.1" y="1119.6" font-size="57.5" fill="#262626" text-anchor="middle">longitude</text>
<text transform="translate(66,553.8) rotate(-90)" font-size="57.5" fill="#262626" text-anchor="middle">latitude</text>
<text x="333.70000000000005" y="66.4" font-size="57.5" font-weight="bold" fill="#000">Temperature,t0</text>
</g>
<g transform="translate(0,1225)">
<rect x="164" y="94" width="849" height="884" fill="none" stroke="#262626" stroke-width="4"/>
<path d="M251.0 978V967M251.0 94V105M589.5 978V967M589.5 94V105M928.0 978V967M928.0 94V105M164 112.5H175M1013 112.5H1002M164 253.4H175M1013 253.4H1002M164 394.3H175M1013 394.3H1002M164 535.2H175M1013 535.2H1002M164 676.2H175M1013 676.2H1002M164 817.1H175M1013 817.1H1002M164 958.0H175M1013 958.0H1002" stroke="#262626" stroke-width="3.6" fill="none"/>
<g font-size="52" fill="#262626">
<text x="244.7" y="1050.2" text-anchor="middle">−5</text>
<text x="586.5" y="1047.2" text-anchor="middle">0</text>
<text x="925.0" y="1047.2" text-anchor="middle">5</text>
<text x="142.4" y="132.1" text-anchor="end">6</text>
<text x="142.4" y="273.0" text-anchor="end">4</text>
<text x="142.4" y="413.9" text-anchor="end">2</text>
<text x="142.4" y="554.9" text-anchor="end">0</text>
<text x="143.5" y="698.8" text-anchor="end">−2</text>
<text x="143.5" y="839.7" text-anchor="end">−4</text>
<text x="143.5" y="980.6" text-anchor="end">−6</text>
</g>
<text x="568.8" y="1119.6" font-size="57.5" fill="#262626" text-anchor="middle">longitude</text>
<text transform="translate(66,553.8) rotate(-90)" font-size="57.5" fill="#262626" text-anchor="middle">latitude</text>
<text x="395.8" y="66.4" font-size="57.5" font-weight="bold" fill="#000">Vorticity, t1</text>
</g>
<g transform="translate(1116,1225)">
<rect x="164" y="94" width="853" height="884" fill="none" stroke="#262626" stroke-width="4"/>
<path d="M251.0 978V967M251.0 94V105M591.2 978V967M591.2 94V105M931.5 978V967M931.5 94V105M164 112.5H175M1017 112.5H1006M164 253.4H175M1017 253.4H1006M164 394.3H175M1017 394.3H1006M164 535.2H175M1017 535.2H1006M164 676.2H175M1017 676.2H1006M164 817.1H175M1017 817.1H1006M164 958.0H175M1017 958.0H1006" stroke="#262626" stroke-width="3.6" fill="none"/>
<g font-size="52" fill="#262626">
<text x="244.7" y="1050.2" text-anchor="middle">−5</text>
<text x="588.25" y="1047.2" text-anchor="middle">0</text>
<text x="928.5" y="1047.2" text-anchor="middle">5</text>
<text x="142.4" y="132.1" text-anchor="end">6</text>
<text x="142.4" y="273.0" text-anchor="end">4</text>
<text x="142.4" y="413.9" text-anchor="end">2</text>
<text x="142.4" y="554.9" text-anchor="end">0</text>
<text x="143.5" y="698.8" text-anchor="end">−2</text>
<text x="143.5" y="839.7" text-anchor="end">−4</text>
<text x="143.5" y="980.6" text-anchor="end">−6</text>
</g>
<text x="571.1" y="1119.6" font-size="57.5" fill="#262626" text-anchor="middle">longitude</text>
<text transform="translate(66,553.8) rotate(-90)" font-size="57.5" fill="#262626" text-anchor="middle">latitude</text>
<text x="325.4000000000001" y="66.4" font-size="57.5" font-weight="bold" fill="#000">Temperature, t1</text>
</g>
<g transform="translate(0,2450)">
<rect x="164" y="94" width="849" height="884" fill="none" stroke="#262626" stroke-width="4"/>
<path d="M251.0 978V967M251.0 94V105M589.5 978V967M589.5 94V105M928.0 978V967M928.0 94V105M164 112.5H175M1013 112.5H1002M164 253.4H175M1013 253.4H1002M164 394.3H175M1013 394.3H1002M164 535.2H175M1013 535.2H1002M164 676.2H175M1013 676.2H1002M164 817.1H175M1013 817.1H1002M164 958.0H175M1013 958.0H1002" stroke="#262626" stroke-width="3.6" fill="none"/>
<g font-size="52" fill="#262626">
<text x="246.4" y="1050.2" text-anchor="middle">−5</text>
<text x="586.5" y="1047.2" text-anchor="middle">0</text>
<text x="925.0" y="1047.2" text-anchor="middle">5</text>
<text x="142.4" y="132.1" text-anchor="end">6</text>
<text x="142.4" y="273.0" text-anchor="end">4</text>
<text x="142.4" y="413.9" text-anchor="end">2</text>
<text x="142.4" y="554.9" text-anchor="end">0</text>
<text x="145.2" y="698.8" text-anchor="end">−2</text>
<text x="145.2" y="839.7" text-anchor="end">−4</text>
<text x="145.2" y="980.6" text-anchor="end">−6</text>
</g>
<text x="568.8" y="1119.6" font-size="57.5" fill="#262626" text-anchor="middle">longitude</text>
<text transform="translate(66,553.8) rotate(-90)" font-size="57.5" fill="#262626" text-anchor="middle">latitude</text>
<text x="395.8" y="66.4" font-size="57.5" font-weight="bold" fill="#000">Vorticity, t2</text>
</g>
<g transform="translate(1116,2450)">
<rect x="164" y="94" width="853" height="884" fill="none" stroke="#262626" stroke-width="4"/>
<path d="M251.0 978V967M251.0 94V105M591.2 978V967M591.2 94V105M931.5 978V967M931.5 94V105M164 112.5H175M1017 112.5H1006M164 253.4H175M1017 253.4H1006M164 394.3H175M1017 394.3H1006M164 535.2H175M1017 535.2H1006M164 676.2H175M1017 676.2H1006M164 817.1H175M1017 817.1H1006M164 958.0H175M1017 958.0H1006" stroke="#262626" stroke-width="3.6" fill="none"/>
<g font-size="52" fill="#262626">
<text x="246.4" y="1050.2" text-anchor="middle">−5</text>
<text x="588.25" y="1047.2" text-anchor="middle">0</text>
<text x="928.5" y="1047.2" text-anchor="middle">5</text>
<text x="142.4" y="132.1" text-anchor="end">6</text>
<text x="142.4" y="273.0" text-anchor="end">4</text>
<text x="142.4" y="413.9" text-anchor="end">2</text>
<text x="142.4" y="554.9" text-anchor="end">0</text>
<text x="145.2" y="698.8" text-anchor="end">−2</text>
<text x="145.2" y="839.7" text-anchor="end">−4</text>
<text x="145.2" y="980.6" text-anchor="end">−6</text>
</g>
<text x="571.1" y="1119.6" font-size="57.5" fill="#262626" text-anchor="middle">longitude</text>
<text transform="translate(66,553.8) rotate(-90)" font-size="57.5" fill="#262626" text-anchor="middle">latitude</text>
<text x="325.4000000000001" y="66.4" font-size="57.5" font-weight="bold" fill="#000">Temperature, t2</text>
</g>
<g font-family="'Liberation Serif','Times New Roman',serif" fill="#000">
<text x="1027.8" y="3736.1" font-size="84.5" text-anchor="middle" style="font-family:'Liberation Serif',serif">(</text>
<text x="1062.5" y="3737.3" font-size="83" font-weight="bold" text-anchor="middle" style="font-family:'Liberation Serif',serif">a</text>
<text x="1096.2" y="3736.1" font-size="84.5" text-anchor="middle" style="font-family:'Liberation Serif',serif">)</text>
</g>
</svg></body></html>
